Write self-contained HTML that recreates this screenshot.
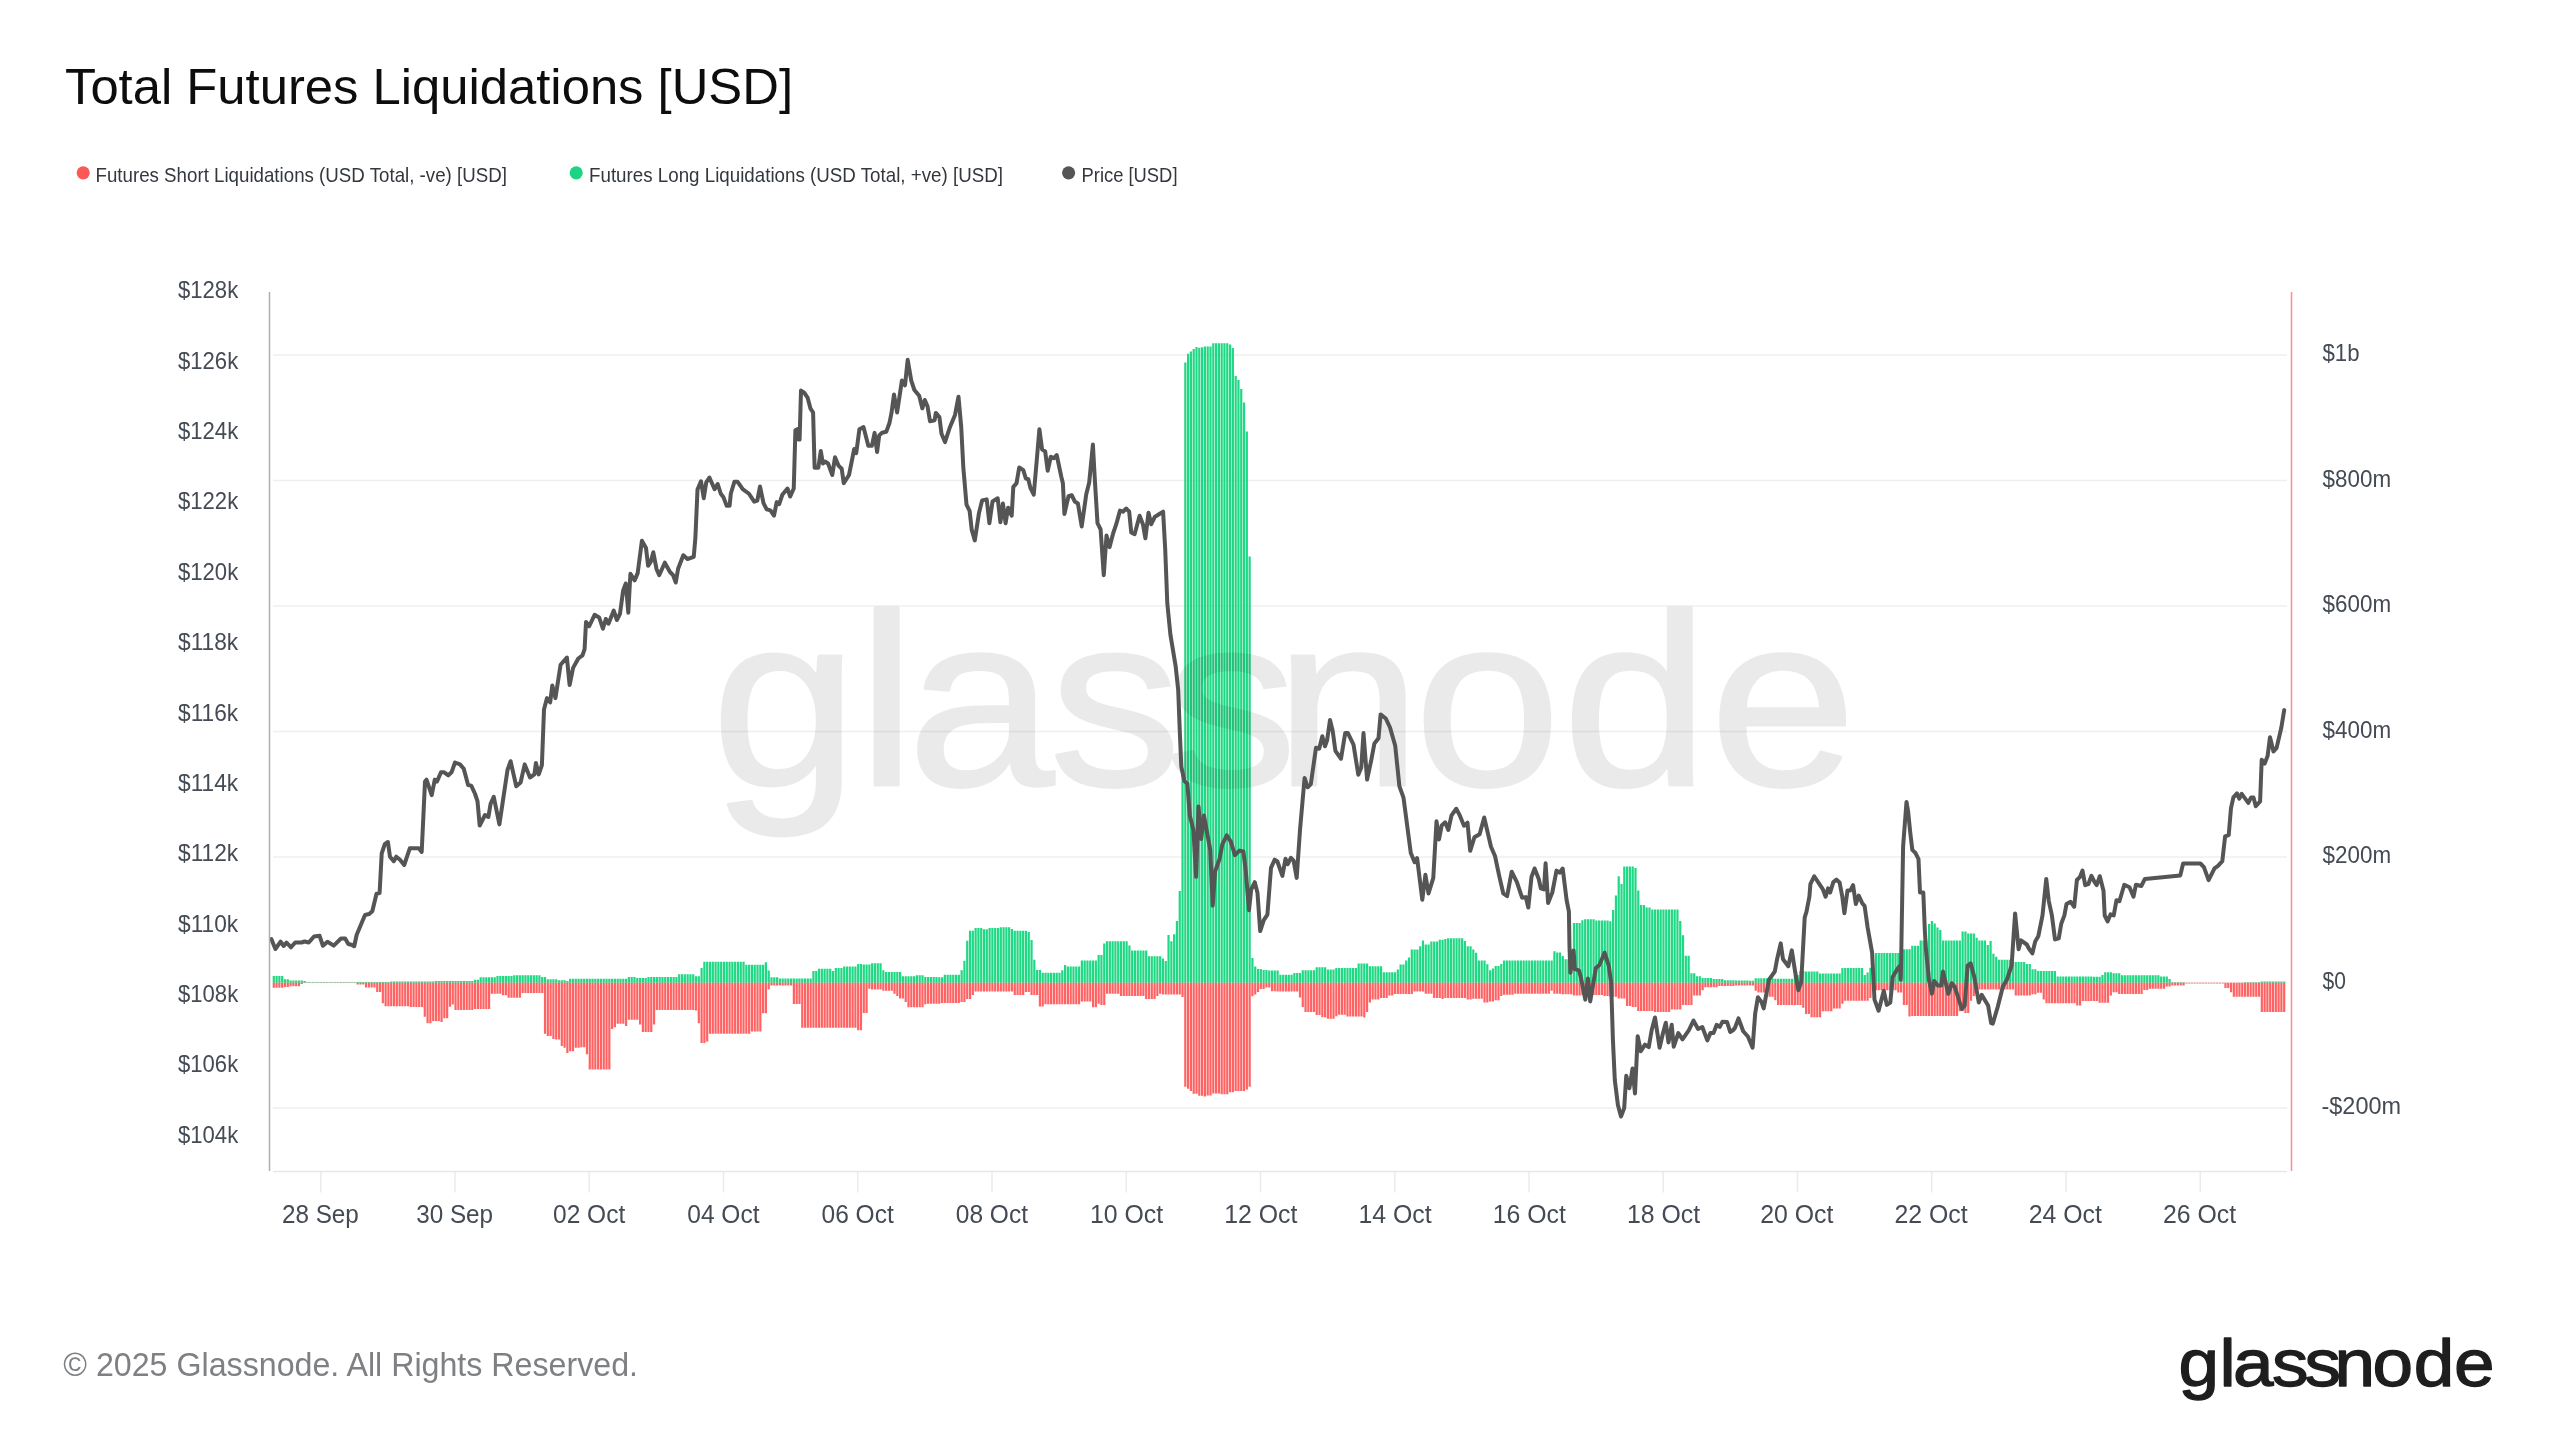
<!DOCTYPE html><html><head><meta charset="utf-8"><title>Total Futures Liquidations [USD]</title>
<style>html,body{margin:0;padding:0;background:#fff;}body{width:2560px;height:1440px;overflow:hidden;}svg{display:block;will-change:transform;}text{font-family:"Liberation Sans",Arial,sans-serif;}</style></head><body>
<svg width="2560" height="1440" viewBox="0 0 2560 1440">
<rect width="2560" height="1440" fill="#ffffff"/>
<text x="65" y="103.6" font-size="50" fill="#0d0d0d" textLength="728" lengthAdjust="spacingAndGlyphs">Total Futures Liquidations [USD]</text>
<circle cx="83.2" cy="172.8" r="6.6" fill="#fd5858"/>
<text x="95.5" y="181.6" font-size="20.9" fill="#33383e" textLength="411.4" lengthAdjust="spacingAndGlyphs">Futures Short Liquidations (USD Total, -ve) [USD]</text>
<circle cx="576.2" cy="172.8" r="6.6" fill="#1fd385"/>
<text x="589" y="181.6" font-size="20.9" fill="#33383e" textLength="414" lengthAdjust="spacingAndGlyphs">Futures Long Liquidations (USD Total, +ve) [USD]</text>
<circle cx="1068.6" cy="172.8" r="6.6" fill="#555555"/>
<text x="1081.5" y="181.6" font-size="20.9" fill="#33383e" textLength="96" lengthAdjust="spacingAndGlyphs">Price [USD]</text>
<line x1="273" y1="355" x2="2287" y2="355" stroke="#efefef" stroke-width="1.5"/>
<line x1="273" y1="480.5" x2="2287" y2="480.5" stroke="#efefef" stroke-width="1.5"/>
<line x1="273" y1="606" x2="2287" y2="606" stroke="#efefef" stroke-width="1.5"/>
<line x1="273" y1="731.5" x2="2287" y2="731.5" stroke="#efefef" stroke-width="1.5"/>
<line x1="273" y1="857" x2="2287" y2="857" stroke="#efefef" stroke-width="1.5"/>
<line x1="273" y1="982.5" x2="2287" y2="982.5" stroke="#efefef" stroke-width="1.5"/>
<line x1="273" y1="1108" x2="2287" y2="1108" stroke="#efefef" stroke-width="1.5"/>
<text x="178" y="298.4" font-size="23.8" fill="#454b55" textLength="60.2" lengthAdjust="spacingAndGlyphs">$128k</text>
<text x="178" y="368.75" font-size="23.8" fill="#454b55" textLength="60.2" lengthAdjust="spacingAndGlyphs">$126k</text>
<text x="178" y="439.1" font-size="23.8" fill="#454b55" textLength="60.2" lengthAdjust="spacingAndGlyphs">$124k</text>
<text x="178" y="509.45" font-size="23.8" fill="#454b55" textLength="60.2" lengthAdjust="spacingAndGlyphs">$122k</text>
<text x="178" y="579.8" font-size="23.8" fill="#454b55" textLength="60.2" lengthAdjust="spacingAndGlyphs">$120k</text>
<text x="178" y="650.15" font-size="23.8" fill="#454b55" textLength="60.2" lengthAdjust="spacingAndGlyphs">$118k</text>
<text x="178" y="720.5" font-size="23.8" fill="#454b55" textLength="60.2" lengthAdjust="spacingAndGlyphs">$116k</text>
<text x="178" y="790.85" font-size="23.8" fill="#454b55" textLength="60.2" lengthAdjust="spacingAndGlyphs">$114k</text>
<text x="178" y="861.2" font-size="23.8" fill="#454b55" textLength="60.2" lengthAdjust="spacingAndGlyphs">$112k</text>
<text x="178" y="931.55" font-size="23.8" fill="#454b55" textLength="60.2" lengthAdjust="spacingAndGlyphs">$110k</text>
<text x="178" y="1001.9" font-size="23.8" fill="#454b55" textLength="60.2" lengthAdjust="spacingAndGlyphs">$108k</text>
<text x="178" y="1072.25" font-size="23.8" fill="#454b55" textLength="60.2" lengthAdjust="spacingAndGlyphs">$106k</text>
<text x="178" y="1142.6" font-size="23.8" fill="#454b55" textLength="60.2" lengthAdjust="spacingAndGlyphs">$104k</text>
<text x="2322.5" y="361.4" font-size="23.8" fill="#454b55" textLength="37" lengthAdjust="spacingAndGlyphs">$1b</text>
<text x="2322.5" y="486.9" font-size="23.8" fill="#454b55" textLength="68.6" lengthAdjust="spacingAndGlyphs">$800m</text>
<text x="2322.5" y="612.4" font-size="23.8" fill="#454b55" textLength="68.6" lengthAdjust="spacingAndGlyphs">$600m</text>
<text x="2322.5" y="737.9" font-size="23.8" fill="#454b55" textLength="68.6" lengthAdjust="spacingAndGlyphs">$400m</text>
<text x="2322.5" y="863.4" font-size="23.8" fill="#454b55" textLength="68.6" lengthAdjust="spacingAndGlyphs">$200m</text>
<text x="2322.5" y="988.9" font-size="23.8" fill="#454b55" textLength="23.4" lengthAdjust="spacingAndGlyphs">$0</text>
<text x="2321.5" y="1114.4" font-size="23.8" fill="#454b55" textLength="79.6" lengthAdjust="spacingAndGlyphs">-$200m</text>
<line x1="273" y1="1171.5" x2="2287" y2="1171.5" stroke="#e4e6e9" stroke-width="1.5"/>
<line x1="320.75" y1="1172" x2="320.75" y2="1192.5" stroke="#eaebed" stroke-width="1.5"/>
<text x="282" y="1222.9" font-size="26.2" fill="#454b55" textLength="76.8" lengthAdjust="spacingAndGlyphs">28 Sep</text>
<line x1="455" y1="1172" x2="455" y2="1192.5" stroke="#eaebed" stroke-width="1.5"/>
<text x="416.25" y="1222.9" font-size="26.2" fill="#454b55" textLength="76.8" lengthAdjust="spacingAndGlyphs">30 Sep</text>
<line x1="589.25" y1="1172" x2="589.25" y2="1192.5" stroke="#eaebed" stroke-width="1.5"/>
<text x="553" y="1222.9" font-size="26.2" fill="#454b55" textLength="72.2" lengthAdjust="spacingAndGlyphs">02 Oct</text>
<line x1="723.5" y1="1172" x2="723.5" y2="1192.5" stroke="#eaebed" stroke-width="1.5"/>
<text x="687.25" y="1222.9" font-size="26.2" fill="#454b55" textLength="72.2" lengthAdjust="spacingAndGlyphs">04 Oct</text>
<line x1="857.75" y1="1172" x2="857.75" y2="1192.5" stroke="#eaebed" stroke-width="1.5"/>
<text x="821.5" y="1222.9" font-size="26.2" fill="#454b55" textLength="72.2" lengthAdjust="spacingAndGlyphs">06 Oct</text>
<line x1="992" y1="1172" x2="992" y2="1192.5" stroke="#eaebed" stroke-width="1.5"/>
<text x="955.75" y="1222.9" font-size="26.2" fill="#454b55" textLength="72.2" lengthAdjust="spacingAndGlyphs">08 Oct</text>
<line x1="1126.25" y1="1172" x2="1126.25" y2="1192.5" stroke="#eaebed" stroke-width="1.5"/>
<text x="1090" y="1222.9" font-size="26.2" fill="#454b55" textLength="73.2" lengthAdjust="spacingAndGlyphs">10 Oct</text>
<line x1="1260.5" y1="1172" x2="1260.5" y2="1192.5" stroke="#eaebed" stroke-width="1.5"/>
<text x="1224.25" y="1222.9" font-size="26.2" fill="#454b55" textLength="73.2" lengthAdjust="spacingAndGlyphs">12 Oct</text>
<line x1="1394.75" y1="1172" x2="1394.75" y2="1192.5" stroke="#eaebed" stroke-width="1.5"/>
<text x="1358.5" y="1222.9" font-size="26.2" fill="#454b55" textLength="73.2" lengthAdjust="spacingAndGlyphs">14 Oct</text>
<line x1="1529" y1="1172" x2="1529" y2="1192.5" stroke="#eaebed" stroke-width="1.5"/>
<text x="1492.75" y="1222.9" font-size="26.2" fill="#454b55" textLength="73.2" lengthAdjust="spacingAndGlyphs">16 Oct</text>
<line x1="1663.25" y1="1172" x2="1663.25" y2="1192.5" stroke="#eaebed" stroke-width="1.5"/>
<text x="1627" y="1222.9" font-size="26.2" fill="#454b55" textLength="73.2" lengthAdjust="spacingAndGlyphs">18 Oct</text>
<line x1="1797.5" y1="1172" x2="1797.5" y2="1192.5" stroke="#eaebed" stroke-width="1.5"/>
<text x="1760.25" y="1222.9" font-size="26.2" fill="#454b55" textLength="73.2" lengthAdjust="spacingAndGlyphs">20 Oct</text>
<line x1="1931.75" y1="1172" x2="1931.75" y2="1192.5" stroke="#eaebed" stroke-width="1.5"/>
<text x="1894.5" y="1222.9" font-size="26.2" fill="#454b55" textLength="73.2" lengthAdjust="spacingAndGlyphs">22 Oct</text>
<line x1="2066" y1="1172" x2="2066" y2="1192.5" stroke="#eaebed" stroke-width="1.5"/>
<text x="2028.75" y="1222.9" font-size="26.2" fill="#454b55" textLength="73.2" lengthAdjust="spacingAndGlyphs">24 Oct</text>
<line x1="2200.25" y1="1172" x2="2200.25" y2="1192.5" stroke="#eaebed" stroke-width="1.5"/>
<text x="2163" y="1222.9" font-size="26.2" fill="#454b55" textLength="73.2" lengthAdjust="spacingAndGlyphs">26 Oct</text>
<path d="M272.7 976.1h2.2V982.8h-2.2zM275.49 976.1h2.2V982.8h-2.2zM278.29 976.1h2.2V982.8h-2.2zM281.09 976.1h2.2V982.8h-2.2zM283.88 979.3h2.2V982.8h-2.2zM286.68 979.3h2.2V982.8h-2.2zM289.47 980.4h2.2V982.8h-2.2zM292.27 980.4h2.2V982.8h-2.2zM295.07 980.4h2.2V982.8h-2.2zM297.86 980.4h2.2V982.8h-2.2zM300.66 980.4h2.2V982.8h-2.2zM303.46 981h2.2V982.8h-2.2zM306.25 982.2h2.2V982.8h-2.2zM309.05 982.2h2.2V982.8h-2.2zM311.84 982.2h2.2V982.8h-2.2zM314.64 982.2h2.2V982.8h-2.2zM317.44 982.2h2.2V982.8h-2.2zM320.23 982.2h2.2V982.8h-2.2zM323.03 982.2h2.2V982.8h-2.2zM325.82 982.2h2.2V982.8h-2.2zM328.62 982.2h2.2V982.8h-2.2zM331.42 982.2h2.2V982.8h-2.2zM334.21 982.2h2.2V982.8h-2.2zM337.01 982.2h2.2V982.8h-2.2zM339.8 982.2h2.2V982.8h-2.2zM342.6 982.2h2.2V982.8h-2.2zM345.4 982.2h2.2V982.8h-2.2zM348.19 982.2h2.2V982.8h-2.2zM350.99 982.2h2.2V982.8h-2.2zM353.78 982.2h2.2V982.8h-2.2zM356.58 982h2.2V982.8h-2.2zM359.38 982h2.2V982.8h-2.2zM362.17 982h2.2V982.8h-2.2zM364.97 982h2.2V982.8h-2.2zM367.77 982h2.2V982.8h-2.2zM370.56 982h2.2V982.8h-2.2zM373.36 982h2.2V982.8h-2.2zM376.15 982h2.2V982.8h-2.2zM378.95 982h2.2V982.8h-2.2zM381.75 982h2.2V982.8h-2.2zM384.54 982h2.2V982.8h-2.2zM387.34 982h2.2V982.8h-2.2zM390.13 981.6h2.2V982.8h-2.2zM392.93 981.6h2.2V982.8h-2.2zM395.73 981.6h2.2V982.8h-2.2zM398.52 981.6h2.2V982.8h-2.2zM401.32 981.6h2.2V982.8h-2.2zM404.11 981.6h2.2V982.8h-2.2zM406.91 981.6h2.2V982.8h-2.2zM409.71 981.6h2.2V982.8h-2.2zM412.5 981.6h2.2V982.8h-2.2zM415.3 981.6h2.2V982.8h-2.2zM418.1 981.6h2.2V982.8h-2.2zM420.89 981.6h2.2V982.8h-2.2zM423.69 981.6h2.2V982.8h-2.2zM426.48 981.6h2.2V982.8h-2.2zM429.28 981.6h2.2V982.8h-2.2zM432.08 981.6h2.2V982.8h-2.2zM434.87 981h2.2V982.8h-2.2zM437.67 981h2.2V982.8h-2.2zM440.46 981h2.2V982.8h-2.2zM443.26 981h2.2V982.8h-2.2zM446.06 981h2.2V982.8h-2.2zM448.85 981h2.2V982.8h-2.2zM451.65 981h2.2V982.8h-2.2zM454.44 981h2.2V982.8h-2.2zM457.24 981h2.2V982.8h-2.2zM460.04 981h2.2V982.8h-2.2zM462.83 981h2.2V982.8h-2.2zM465.63 981h2.2V982.8h-2.2zM468.43 981h2.2V982.8h-2.2zM471.22 981h2.2V982.8h-2.2zM474.02 979.8h2.2V982.8h-2.2zM476.81 979.8h2.2V982.8h-2.2zM479.61 977.3h2.2V982.8h-2.2zM482.41 977.3h2.2V982.8h-2.2zM485.2 977.3h2.2V982.8h-2.2zM488 977.3h2.2V982.8h-2.2zM490.79 977.3h2.2V982.8h-2.2zM493.59 977.3h2.2V982.8h-2.2zM496.39 976.1h2.2V982.8h-2.2zM499.18 976.1h2.2V982.8h-2.2zM501.98 976.1h2.2V982.8h-2.2zM504.77 976.1h2.2V982.8h-2.2zM507.57 976.1h2.2V982.8h-2.2zM510.37 976.1h2.2V982.8h-2.2zM513.16 975.2h2.2V982.8h-2.2zM515.96 975.2h2.2V982.8h-2.2zM518.75 975.2h2.2V982.8h-2.2zM521.55 975.2h2.2V982.8h-2.2zM524.35 975.2h2.2V982.8h-2.2zM527.14 975.2h2.2V982.8h-2.2zM529.94 975.2h2.2V982.8h-2.2zM532.74 975.2h2.2V982.8h-2.2zM535.53 975.2h2.2V982.8h-2.2zM538.33 975.2h2.2V982.8h-2.2zM541.12 977h2.2V982.8h-2.2zM543.92 977h2.2V982.8h-2.2zM546.72 979.3h2.2V982.8h-2.2zM549.51 979.3h2.2V982.8h-2.2zM552.31 979.3h2.2V982.8h-2.2zM555.1 979.3h2.2V982.8h-2.2zM557.9 980.2h2.2V982.8h-2.2zM560.7 980.2h2.2V982.8h-2.2zM563.49 980.2h2.2V982.8h-2.2zM566.29 981h2.2V982.8h-2.2zM569.08 978.7h2.2V982.8h-2.2zM571.88 978.7h2.2V982.8h-2.2zM574.68 978.7h2.2V982.8h-2.2zM577.47 978.7h2.2V982.8h-2.2zM580.27 978.7h2.2V982.8h-2.2zM583.07 978.7h2.2V982.8h-2.2zM585.86 978.7h2.2V982.8h-2.2zM588.66 978.7h2.2V982.8h-2.2zM591.45 978.7h2.2V982.8h-2.2zM594.25 978.7h2.2V982.8h-2.2zM597.05 978.7h2.2V982.8h-2.2zM599.84 978.7h2.2V982.8h-2.2zM602.64 978.7h2.2V982.8h-2.2zM605.43 978.7h2.2V982.8h-2.2zM608.23 978.7h2.2V982.8h-2.2zM611.03 978.7h2.2V982.8h-2.2zM613.82 978.7h2.2V982.8h-2.2zM616.62 978.7h2.2V982.8h-2.2zM619.41 978.7h2.2V982.8h-2.2zM622.21 978.7h2.2V982.8h-2.2zM625.01 978.7h2.2V982.8h-2.2zM627.8 976.9h2.2V982.8h-2.2zM630.6 976.9h2.2V982.8h-2.2zM633.39 976.9h2.2V982.8h-2.2zM636.19 978.1h2.2V982.8h-2.2zM638.99 978.1h2.2V982.8h-2.2zM641.78 978.1h2.2V982.8h-2.2zM644.58 978.1h2.2V982.8h-2.2zM647.38 976.9h2.2V982.8h-2.2zM650.17 976.9h2.2V982.8h-2.2zM652.97 976.9h2.2V982.8h-2.2zM655.76 976.9h2.2V982.8h-2.2zM658.56 976.9h2.2V982.8h-2.2zM661.36 976.9h2.2V982.8h-2.2zM664.15 976.9h2.2V982.8h-2.2zM666.95 976.9h2.2V982.8h-2.2zM669.74 976.9h2.2V982.8h-2.2zM672.54 976.9h2.2V982.8h-2.2zM675.34 976.9h2.2V982.8h-2.2zM678.13 974.2h2.2V982.8h-2.2zM680.93 974.2h2.2V982.8h-2.2zM683.72 974.2h2.2V982.8h-2.2zM686.52 974.2h2.2V982.8h-2.2zM689.32 974.2h2.2V982.8h-2.2zM692.11 974.2h2.2V982.8h-2.2zM694.91 976.3h2.2V982.8h-2.2zM697.71 976.3h2.2V982.8h-2.2zM700.5 968.1h2.2V982.8h-2.2zM703.3 961.7h2.2V982.8h-2.2zM706.09 961.7h2.2V982.8h-2.2zM708.89 961.7h2.2V982.8h-2.2zM711.69 961.7h2.2V982.8h-2.2zM714.48 961.7h2.2V982.8h-2.2zM717.28 961.7h2.2V982.8h-2.2zM720.07 961.7h2.2V982.8h-2.2zM722.87 961.7h2.2V982.8h-2.2zM725.67 961.7h2.2V982.8h-2.2zM728.46 961.7h2.2V982.8h-2.2zM731.26 961.7h2.2V982.8h-2.2zM734.05 961.7h2.2V982.8h-2.2zM736.85 961.7h2.2V982.8h-2.2zM739.65 961.7h2.2V982.8h-2.2zM742.44 961.7h2.2V982.8h-2.2zM745.24 964.8h2.2V982.8h-2.2zM748.04 964.8h2.2V982.8h-2.2zM750.83 964.8h2.2V982.8h-2.2zM753.63 964.8h2.2V982.8h-2.2zM756.42 964.8h2.2V982.8h-2.2zM759.22 964.8h2.2V982.8h-2.2zM762.02 964.8h2.2V982.8h-2.2zM764.81 962.3h2.2V982.8h-2.2zM767.61 970.5h2.2V982.8h-2.2zM770.4 977.3h2.2V982.8h-2.2zM773.2 977.3h2.2V982.8h-2.2zM776 977.3h2.2V982.8h-2.2zM778.79 978.4h2.2V982.8h-2.2zM781.59 978.4h2.2V982.8h-2.2zM784.38 978.4h2.2V982.8h-2.2zM787.18 978.4h2.2V982.8h-2.2zM789.98 978.4h2.2V982.8h-2.2zM792.77 978.4h2.2V982.8h-2.2zM795.57 978.4h2.2V982.8h-2.2zM798.36 978.4h2.2V982.8h-2.2zM801.16 978.4h2.2V982.8h-2.2zM803.96 978.4h2.2V982.8h-2.2zM806.75 978.4h2.2V982.8h-2.2zM809.55 978.4h2.2V982.8h-2.2zM812.35 971.1h2.2V982.8h-2.2zM815.14 971.1h2.2V982.8h-2.2zM817.94 968.7h2.2V982.8h-2.2zM820.73 968.7h2.2V982.8h-2.2zM823.53 968.7h2.2V982.8h-2.2zM826.33 968.7h2.2V982.8h-2.2zM829.12 968.7h2.2V982.8h-2.2zM831.92 971h2.2V982.8h-2.2zM834.71 967.9h2.2V982.8h-2.2zM837.51 967.9h2.2V982.8h-2.2zM840.31 967.9h2.2V982.8h-2.2zM843.1 966.4h2.2V982.8h-2.2zM845.9 966.4h2.2V982.8h-2.2zM848.69 966.4h2.2V982.8h-2.2zM851.49 966.4h2.2V982.8h-2.2zM854.29 966.4h2.2V982.8h-2.2zM857.08 964h2.2V982.8h-2.2zM859.88 964h2.2V982.8h-2.2zM862.68 964.5h2.2V982.8h-2.2zM865.47 964.5h2.2V982.8h-2.2zM868.27 964.5h2.2V982.8h-2.2zM871.06 963.3h2.2V982.8h-2.2zM873.86 963.3h2.2V982.8h-2.2zM876.66 963.3h2.2V982.8h-2.2zM879.45 963.3h2.2V982.8h-2.2zM882.25 970.3h2.2V982.8h-2.2zM885.04 972.1h2.2V982.8h-2.2zM887.84 972.1h2.2V982.8h-2.2zM890.64 972.1h2.2V982.8h-2.2zM893.43 972.1h2.2V982.8h-2.2zM896.23 972.1h2.2V982.8h-2.2zM899.02 972.1h2.2V982.8h-2.2zM901.82 976.2h2.2V982.8h-2.2zM904.62 976.2h2.2V982.8h-2.2zM907.41 976.2h2.2V982.8h-2.2zM910.21 976.2h2.2V982.8h-2.2zM913 976.2h2.2V982.8h-2.2zM915.8 975.2h2.2V982.8h-2.2zM918.6 975.2h2.2V982.8h-2.2zM921.39 975.2h2.2V982.8h-2.2zM924.19 977h2.2V982.8h-2.2zM926.99 977h2.2V982.8h-2.2zM929.78 977h2.2V982.8h-2.2zM932.58 977h2.2V982.8h-2.2zM935.37 977h2.2V982.8h-2.2zM938.17 977.3h2.2V982.8h-2.2zM940.97 977.3h2.2V982.8h-2.2zM943.76 974.7h2.2V982.8h-2.2zM946.56 974.7h2.2V982.8h-2.2zM949.35 974.7h2.2V982.8h-2.2zM952.15 974.7h2.2V982.8h-2.2zM954.95 974.7h2.2V982.8h-2.2zM957.74 974.7h2.2V982.8h-2.2zM960.54 970.3h2.2V982.8h-2.2zM963.33 960.7h2.2V982.8h-2.2zM966.13 940.8h2.2V982.8h-2.2zM968.93 930.7h2.2V982.8h-2.2zM971.72 930.7h2.2V982.8h-2.2zM974.52 927.9h2.2V982.8h-2.2zM977.32 927.9h2.2V982.8h-2.2zM980.11 927.9h2.2V982.8h-2.2zM982.91 929.3h2.2V982.8h-2.2zM985.7 929.3h2.2V982.8h-2.2zM988.5 927.9h2.2V982.8h-2.2zM991.3 927.9h2.2V982.8h-2.2zM994.09 927.9h2.2V982.8h-2.2zM996.89 927.9h2.2V982.8h-2.2zM999.68 927.2h2.2V982.8h-2.2zM1002.48 927.2h2.2V982.8h-2.2zM1005.28 927.2h2.2V982.8h-2.2zM1008.07 927.2h2.2V982.8h-2.2zM1010.87 929h2.2V982.8h-2.2zM1013.66 930.7h2.2V982.8h-2.2zM1016.46 930.7h2.2V982.8h-2.2zM1019.26 930.7h2.2V982.8h-2.2zM1022.05 930.7h2.2V982.8h-2.2zM1024.85 930.7h2.2V982.8h-2.2zM1027.65 931.9h2.2V982.8h-2.2zM1030.44 940.1h2.2V982.8h-2.2zM1033.24 959.8h2.2V982.8h-2.2zM1036.03 970.1h2.2V982.8h-2.2zM1038.83 970.1h2.2V982.8h-2.2zM1041.63 972.7h2.2V982.8h-2.2zM1044.42 972.7h2.2V982.8h-2.2zM1047.22 972.7h2.2V982.8h-2.2zM1050.01 972.7h2.2V982.8h-2.2zM1052.81 972.7h2.2V982.8h-2.2zM1055.61 972.7h2.2V982.8h-2.2zM1058.4 972.7h2.2V982.8h-2.2zM1061.2 970.3h2.2V982.8h-2.2zM1063.99 965h2.2V982.8h-2.2zM1066.79 966.6h2.2V982.8h-2.2zM1069.59 966.6h2.2V982.8h-2.2zM1072.38 966.6h2.2V982.8h-2.2zM1075.18 966.6h2.2V982.8h-2.2zM1077.97 966.6h2.2V982.8h-2.2zM1080.77 960.4h2.2V982.8h-2.2zM1083.57 960.4h2.2V982.8h-2.2zM1086.36 960.4h2.2V982.8h-2.2zM1089.16 960.4h2.2V982.8h-2.2zM1091.96 960.4h2.2V982.8h-2.2zM1094.75 960.4h2.2V982.8h-2.2zM1097.55 955.1h2.2V982.8h-2.2zM1100.34 955.1h2.2V982.8h-2.2zM1103.14 943.4h2.2V982.8h-2.2zM1105.94 941.3h2.2V982.8h-2.2zM1108.73 941.3h2.2V982.8h-2.2zM1111.53 941.3h2.2V982.8h-2.2zM1114.32 941.3h2.2V982.8h-2.2zM1117.12 941.3h2.2V982.8h-2.2zM1119.92 941.3h2.2V982.8h-2.2zM1122.71 941.3h2.2V982.8h-2.2zM1125.51 941.3h2.2V982.8h-2.2zM1128.3 945.5h2.2V982.8h-2.2zM1131.1 950.4h2.2V982.8h-2.2zM1133.9 950.4h2.2V982.8h-2.2zM1136.69 950.4h2.2V982.8h-2.2zM1139.49 950.4h2.2V982.8h-2.2zM1142.29 950.4h2.2V982.8h-2.2zM1145.08 950.4h2.2V982.8h-2.2zM1147.88 956.3h2.2V982.8h-2.2zM1150.67 956.3h2.2V982.8h-2.2zM1153.47 956.3h2.2V982.8h-2.2zM1156.27 956.3h2.2V982.8h-2.2zM1159.06 956.3h2.2V982.8h-2.2zM1161.86 958.4h2.2V982.8h-2.2zM1164.65 961.1h2.2V982.8h-2.2zM1167.45 935.1h2.2V982.8h-2.2zM1170.25 941.2h2.2V982.8h-2.2zM1173.04 934.2h2.2V982.8h-2.2zM1175.84 920.9h2.2V982.8h-2.2zM1178.63 891.1h2.2V982.8h-2.2zM1181.43 775h2.2V982.8h-2.2zM1184.23 362.5h2.2V982.8h-2.2zM1187.02 353.75h2.2V982.8h-2.2zM1189.82 351.6h2.2V982.8h-2.2zM1192.61 349h2.2V982.8h-2.2zM1195.41 346.9h2.2V982.8h-2.2zM1198.21 347.8h2.2V982.8h-2.2zM1201 347.2h2.2V982.8h-2.2zM1203.8 346.6h2.2V982.8h-2.2zM1206.6 346.6h2.2V982.8h-2.2zM1209.39 346.6h2.2V982.8h-2.2zM1212.19 343.25h2.2V982.8h-2.2zM1214.98 343.25h2.2V982.8h-2.2zM1217.78 343.25h2.2V982.8h-2.2zM1220.58 343.25h2.2V982.8h-2.2zM1223.37 343.25h2.2V982.8h-2.2zM1226.17 343.25h2.2V982.8h-2.2zM1228.96 344.5h2.2V982.8h-2.2zM1231.76 348.1h2.2V982.8h-2.2zM1234.56 376h2.2V982.8h-2.2zM1237.35 380h2.2V982.8h-2.2zM1240.15 389h2.2V982.8h-2.2zM1242.94 402.5h2.2V982.8h-2.2zM1245.74 431.5h2.2V982.8h-2.2zM1248.54 556.5h2.2V982.8h-2.2zM1251.33 958.1h2.2V982.8h-2.2zM1254.13 966.5h2.2V982.8h-2.2zM1256.93 969h2.2V982.8h-2.2zM1259.72 969h2.2V982.8h-2.2zM1262.52 970h2.2V982.8h-2.2zM1265.31 970h2.2V982.8h-2.2zM1268.11 970.6h2.2V982.8h-2.2zM1270.91 970.6h2.2V982.8h-2.2zM1273.7 970.6h2.2V982.8h-2.2zM1276.5 970.6h2.2V982.8h-2.2zM1279.29 974.75h2.2V982.8h-2.2zM1282.09 974.75h2.2V982.8h-2.2zM1284.89 974.75h2.2V982.8h-2.2zM1287.68 974.75h2.2V982.8h-2.2zM1290.48 974.75h2.2V982.8h-2.2zM1293.27 973.1h2.2V982.8h-2.2zM1296.07 973.1h2.2V982.8h-2.2zM1298.87 973.1h2.2V982.8h-2.2zM1301.66 970.25h2.2V982.8h-2.2zM1304.46 970.25h2.2V982.8h-2.2zM1307.26 970.25h2.2V982.8h-2.2zM1310.05 970.25h2.2V982.8h-2.2zM1312.85 970.25h2.2V982.8h-2.2zM1315.64 967.25h2.2V982.8h-2.2zM1318.44 967.25h2.2V982.8h-2.2zM1321.24 967.25h2.2V982.8h-2.2zM1324.03 967.25h2.2V982.8h-2.2zM1326.83 969.4h2.2V982.8h-2.2zM1329.62 969.4h2.2V982.8h-2.2zM1332.42 969.4h2.2V982.8h-2.2zM1335.22 968.1h2.2V982.8h-2.2zM1338.01 968.1h2.2V982.8h-2.2zM1340.81 968.1h2.2V982.8h-2.2zM1343.6 968.1h2.2V982.8h-2.2zM1346.4 968.1h2.2V982.8h-2.2zM1349.2 968.1h2.2V982.8h-2.2zM1351.99 968.1h2.2V982.8h-2.2zM1354.79 968.1h2.2V982.8h-2.2zM1357.58 963.5h2.2V982.8h-2.2zM1360.38 963.5h2.2V982.8h-2.2zM1363.18 963.5h2.2V982.8h-2.2zM1365.97 963.5h2.2V982.8h-2.2zM1368.77 966.25h2.2V982.8h-2.2zM1371.57 966.25h2.2V982.8h-2.2zM1374.36 966.25h2.2V982.8h-2.2zM1377.16 966.25h2.2V982.8h-2.2zM1379.95 966.25h2.2V982.8h-2.2zM1382.75 972.25h2.2V982.8h-2.2zM1385.55 972.25h2.2V982.8h-2.2zM1388.34 972.25h2.2V982.8h-2.2zM1391.14 972.25h2.2V982.8h-2.2zM1393.93 972.25h2.2V982.8h-2.2zM1396.73 969.4h2.2V982.8h-2.2zM1399.53 964.4h2.2V982.8h-2.2zM1402.32 964.4h2.2V982.8h-2.2zM1405.12 960.6h2.2V982.8h-2.2zM1407.91 957.5h2.2V982.8h-2.2zM1410.71 949.4h2.2V982.8h-2.2zM1413.51 949.4h2.2V982.8h-2.2zM1416.3 949.4h2.2V982.8h-2.2zM1419.1 946.25h2.2V982.8h-2.2zM1421.9 940.6h2.2V982.8h-2.2zM1424.69 944.4h2.2V982.8h-2.2zM1427.49 944.4h2.2V982.8h-2.2zM1430.28 941.5h2.2V982.8h-2.2zM1433.08 941.5h2.2V982.8h-2.2zM1435.88 941.5h2.2V982.8h-2.2zM1438.67 939.75h2.2V982.8h-2.2zM1441.47 939.75h2.2V982.8h-2.2zM1444.26 938.9h2.2V982.8h-2.2zM1447.06 938.2h2.2V982.8h-2.2zM1449.86 938.2h2.2V982.8h-2.2zM1452.65 938.2h2.2V982.8h-2.2zM1455.45 938.2h2.2V982.8h-2.2zM1458.24 938.2h2.2V982.8h-2.2zM1461.04 938.2h2.2V982.8h-2.2zM1463.84 941h2.2V982.8h-2.2zM1466.63 946.3h2.2V982.8h-2.2zM1469.43 946.3h2.2V982.8h-2.2zM1472.22 949.5h2.2V982.8h-2.2zM1475.02 952.7h2.2V982.8h-2.2zM1477.82 960.4h2.2V982.8h-2.2zM1480.61 960.4h2.2V982.8h-2.2zM1483.41 960.4h2.2V982.8h-2.2zM1486.21 964.2h2.2V982.8h-2.2zM1489 970.3h2.2V982.8h-2.2zM1491.8 968.6h2.2V982.8h-2.2zM1494.59 965.9h2.2V982.8h-2.2zM1497.39 965.9h2.2V982.8h-2.2zM1500.19 963.9h2.2V982.8h-2.2zM1502.98 960.6h2.2V982.8h-2.2zM1505.78 960.6h2.2V982.8h-2.2zM1508.57 960.6h2.2V982.8h-2.2zM1511.37 960.6h2.2V982.8h-2.2zM1514.17 960.6h2.2V982.8h-2.2zM1516.96 960.6h2.2V982.8h-2.2zM1519.76 960.6h2.2V982.8h-2.2zM1522.55 960.6h2.2V982.8h-2.2zM1525.35 960.6h2.2V982.8h-2.2zM1528.15 960.6h2.2V982.8h-2.2zM1530.94 960.6h2.2V982.8h-2.2zM1533.74 960.6h2.2V982.8h-2.2zM1536.54 960.6h2.2V982.8h-2.2zM1539.33 960.6h2.2V982.8h-2.2zM1542.13 960.6h2.2V982.8h-2.2zM1544.92 960.6h2.2V982.8h-2.2zM1547.72 960.6h2.2V982.8h-2.2zM1550.52 960.6h2.2V982.8h-2.2zM1553.31 951.3h2.2V982.8h-2.2zM1556.11 952.5h2.2V982.8h-2.2zM1558.9 952.5h2.2V982.8h-2.2zM1561.7 956h2.2V982.8h-2.2zM1564.5 959.2h2.2V982.8h-2.2zM1567.29 959.2h2.2V982.8h-2.2zM1570.09 950h2.2V982.8h-2.2zM1572.88 923h2.2V982.8h-2.2zM1575.68 923h2.2V982.8h-2.2zM1578.48 923h2.2V982.8h-2.2zM1581.27 920.2h2.2V982.8h-2.2zM1584.07 919.3h2.2V982.8h-2.2zM1586.87 919.3h2.2V982.8h-2.2zM1589.66 919.3h2.2V982.8h-2.2zM1592.46 919.3h2.2V982.8h-2.2zM1595.25 920.5h2.2V982.8h-2.2zM1598.05 920.5h2.2V982.8h-2.2zM1600.85 920.5h2.2V982.8h-2.2zM1603.64 920.5h2.2V982.8h-2.2zM1606.44 920.5h2.2V982.8h-2.2zM1609.23 921.3h2.2V982.8h-2.2zM1612.03 910h2.2V982.8h-2.2zM1614.83 895.6h2.2V982.8h-2.2zM1617.62 876.25h2.2V982.8h-2.2zM1620.42 884h2.2V982.8h-2.2zM1623.21 866.5h2.2V982.8h-2.2zM1626.01 866.5h2.2V982.8h-2.2zM1628.81 866.5h2.2V982.8h-2.2zM1631.6 866.5h2.2V982.8h-2.2zM1634.4 868h2.2V982.8h-2.2zM1637.19 890.4h2.2V982.8h-2.2zM1639.99 904.9h2.2V982.8h-2.2zM1642.79 904.9h2.2V982.8h-2.2zM1645.58 907.6h2.2V982.8h-2.2zM1648.38 907.6h2.2V982.8h-2.2zM1651.18 909.6h2.2V982.8h-2.2zM1653.97 909.6h2.2V982.8h-2.2zM1656.77 909.6h2.2V982.8h-2.2zM1659.56 909.6h2.2V982.8h-2.2zM1662.36 909.6h2.2V982.8h-2.2zM1665.16 909.6h2.2V982.8h-2.2zM1667.95 909.6h2.2V982.8h-2.2zM1670.75 909.6h2.2V982.8h-2.2zM1673.54 909.6h2.2V982.8h-2.2zM1676.34 909.6h2.2V982.8h-2.2zM1679.14 921.1h2.2V982.8h-2.2zM1681.93 935.2h2.2V982.8h-2.2zM1684.73 955.7h2.2V982.8h-2.2zM1687.52 955.7h2.2V982.8h-2.2zM1690.32 973.25h2.2V982.8h-2.2zM1693.12 973.25h2.2V982.8h-2.2zM1695.91 976.2h2.2V982.8h-2.2zM1698.71 976.2h2.2V982.8h-2.2zM1701.51 977.9h2.2V982.8h-2.2zM1704.3 977.9h2.2V982.8h-2.2zM1707.1 977.9h2.2V982.8h-2.2zM1709.89 977.9h2.2V982.8h-2.2zM1712.69 979.1h2.2V982.8h-2.2zM1715.49 979.1h2.2V982.8h-2.2zM1718.28 979.1h2.2V982.8h-2.2zM1721.08 979.1h2.2V982.8h-2.2zM1723.87 980.3h2.2V982.8h-2.2zM1726.67 980.3h2.2V982.8h-2.2zM1729.47 980.3h2.2V982.8h-2.2zM1732.26 980.3h2.2V982.8h-2.2zM1735.06 980.6h2.2V982.8h-2.2zM1737.85 980.6h2.2V982.8h-2.2zM1740.65 980.6h2.2V982.8h-2.2zM1743.45 980.6h2.2V982.8h-2.2zM1746.24 980.6h2.2V982.8h-2.2zM1749.04 980.8h2.2V982.8h-2.2zM1751.83 980.8h2.2V982.8h-2.2zM1754.63 978.3h2.2V982.8h-2.2zM1757.43 978.3h2.2V982.8h-2.2zM1760.22 978.3h2.2V982.8h-2.2zM1763.02 978.3h2.2V982.8h-2.2zM1765.82 978.3h2.2V982.8h-2.2zM1768.61 978.3h2.2V982.8h-2.2zM1771.41 978.3h2.2V982.8h-2.2zM1774.2 978.75h2.2V982.8h-2.2zM1777 978.75h2.2V982.8h-2.2zM1779.8 978.75h2.2V982.8h-2.2zM1782.59 978.75h2.2V982.8h-2.2zM1785.39 978.75h2.2V982.8h-2.2zM1788.18 978.75h2.2V982.8h-2.2zM1790.98 978.75h2.2V982.8h-2.2zM1793.78 975h2.2V982.8h-2.2zM1796.57 975h2.2V982.8h-2.2zM1799.37 970.9h2.2V982.8h-2.2zM1802.16 970.9h2.2V982.8h-2.2zM1804.96 971.5h2.2V982.8h-2.2zM1807.76 971.5h2.2V982.8h-2.2zM1810.55 971.5h2.2V982.8h-2.2zM1813.35 971.5h2.2V982.8h-2.2zM1816.15 971.5h2.2V982.8h-2.2zM1818.94 973.6h2.2V982.8h-2.2zM1821.74 973.6h2.2V982.8h-2.2zM1824.53 973.6h2.2V982.8h-2.2zM1827.33 973.6h2.2V982.8h-2.2zM1830.13 973.6h2.2V982.8h-2.2zM1832.92 973.6h2.2V982.8h-2.2zM1835.72 973.6h2.2V982.8h-2.2zM1838.51 973.6h2.2V982.8h-2.2zM1841.31 968h2.2V982.8h-2.2zM1844.11 968h2.2V982.8h-2.2zM1846.9 968h2.2V982.8h-2.2zM1849.7 968h2.2V982.8h-2.2zM1852.49 968h2.2V982.8h-2.2zM1855.29 968h2.2V982.8h-2.2zM1858.09 968h2.2V982.8h-2.2zM1860.88 968h2.2V982.8h-2.2zM1863.68 975h2.2V982.8h-2.2zM1866.48 972.4h2.2V982.8h-2.2zM1869.27 967.7h2.2V982.8h-2.2zM1872.07 967.7h2.2V982.8h-2.2zM1874.86 953h2.2V982.8h-2.2zM1877.66 953h2.2V982.8h-2.2zM1880.46 953h2.2V982.8h-2.2zM1883.25 953h2.2V982.8h-2.2zM1886.05 953h2.2V982.8h-2.2zM1888.84 953h2.2V982.8h-2.2zM1891.64 953h2.2V982.8h-2.2zM1894.44 953h2.2V982.8h-2.2zM1897.23 953h2.2V982.8h-2.2zM1900.03 953h2.2V982.8h-2.2zM1902.82 949.2h2.2V982.8h-2.2zM1905.62 949.2h2.2V982.8h-2.2zM1908.42 949.2h2.2V982.8h-2.2zM1911.21 945.7h2.2V982.8h-2.2zM1914.01 945.7h2.2V982.8h-2.2zM1916.8 945.7h2.2V982.8h-2.2zM1919.6 940.4h2.2V982.8h-2.2zM1922.4 940.4h2.2V982.8h-2.2zM1925.19 940.4h2.2V982.8h-2.2zM1927.99 924h2.2V982.8h-2.2zM1930.79 921.1h2.2V982.8h-2.2zM1933.58 923.4h2.2V982.8h-2.2zM1936.38 927.5h2.2V982.8h-2.2zM1939.17 929.9h2.2V982.8h-2.2zM1941.97 940.4h2.2V982.8h-2.2zM1944.77 940.4h2.2V982.8h-2.2zM1947.56 940.4h2.2V982.8h-2.2zM1950.36 940.4h2.2V982.8h-2.2zM1953.15 940.4h2.2V982.8h-2.2zM1955.95 940.4h2.2V982.8h-2.2zM1958.75 940.4h2.2V982.8h-2.2zM1961.54 931.6h2.2V982.8h-2.2zM1964.34 931.6h2.2V982.8h-2.2zM1967.13 933.4h2.2V982.8h-2.2zM1969.93 933.4h2.2V982.8h-2.2zM1972.73 933.4h2.2V982.8h-2.2zM1975.52 937.7h2.2V982.8h-2.2zM1978.32 940.4h2.2V982.8h-2.2zM1981.12 940.4h2.2V982.8h-2.2zM1983.91 940.4h2.2V982.8h-2.2zM1986.71 945.1h2.2V982.8h-2.2zM1989.5 941h2.2V982.8h-2.2zM1992.3 953.7h2.2V982.8h-2.2zM1995.1 956.8h2.2V982.8h-2.2zM1997.89 959.8h2.2V982.8h-2.2zM2000.69 959.8h2.2V982.8h-2.2zM2003.48 959.8h2.2V982.8h-2.2zM2006.28 959.8h2.2V982.8h-2.2zM2009.08 959.8h2.2V982.8h-2.2zM2011.87 959.8h2.2V982.8h-2.2zM2014.67 961.9h2.2V982.8h-2.2zM2017.46 961.9h2.2V982.8h-2.2zM2020.26 961.9h2.2V982.8h-2.2zM2023.06 961.9h2.2V982.8h-2.2zM2025.85 964h2.2V982.8h-2.2zM2028.65 964h2.2V982.8h-2.2zM2031.44 969.3h2.2V982.8h-2.2zM2034.24 969.3h2.2V982.8h-2.2zM2037.04 971.1h2.2V982.8h-2.2zM2039.83 971.1h2.2V982.8h-2.2zM2042.63 971.1h2.2V982.8h-2.2zM2045.43 971.1h2.2V982.8h-2.2zM2048.22 971.1h2.2V982.8h-2.2zM2051.02 971.1h2.2V982.8h-2.2zM2053.81 971.1h2.2V982.8h-2.2zM2056.61 976.4h2.2V982.8h-2.2zM2059.41 976.4h2.2V982.8h-2.2zM2062.2 976.4h2.2V982.8h-2.2zM2065 976.4h2.2V982.8h-2.2zM2067.79 976.4h2.2V982.8h-2.2zM2070.59 976.4h2.2V982.8h-2.2zM2073.39 976.4h2.2V982.8h-2.2zM2076.18 976.4h2.2V982.8h-2.2zM2078.98 976.4h2.2V982.8h-2.2zM2081.77 976.4h2.2V982.8h-2.2zM2084.57 976.4h2.2V982.8h-2.2zM2087.37 976.4h2.2V982.8h-2.2zM2090.16 976.4h2.2V982.8h-2.2zM2092.96 976.7h2.2V982.8h-2.2zM2095.76 976.7h2.2V982.8h-2.2zM2098.55 976.7h2.2V982.8h-2.2zM2101.35 975h2.2V982.8h-2.2zM2104.14 972.2h2.2V982.8h-2.2zM2106.94 972.2h2.2V982.8h-2.2zM2109.74 972.2h2.2V982.8h-2.2zM2112.53 973.2h2.2V982.8h-2.2zM2115.33 973.2h2.2V982.8h-2.2zM2118.12 973.2h2.2V982.8h-2.2zM2120.92 975.3h2.2V982.8h-2.2zM2123.72 975.3h2.2V982.8h-2.2zM2126.51 975.3h2.2V982.8h-2.2zM2129.31 975.3h2.2V982.8h-2.2zM2132.1 975.3h2.2V982.8h-2.2zM2134.9 975.3h2.2V982.8h-2.2zM2137.7 975.3h2.2V982.8h-2.2zM2140.49 975.3h2.2V982.8h-2.2zM2143.29 975.3h2.2V982.8h-2.2zM2146.09 975.3h2.2V982.8h-2.2zM2148.88 975.3h2.2V982.8h-2.2zM2151.68 975.3h2.2V982.8h-2.2zM2154.47 975.3h2.2V982.8h-2.2zM2157.27 975.3h2.2V982.8h-2.2zM2160.07 976.4h2.2V982.8h-2.2zM2162.86 976.4h2.2V982.8h-2.2zM2165.66 976.4h2.2V982.8h-2.2zM2168.45 979h2.2V982.8h-2.2zM2171.25 982.2h2.2V982.8h-2.2zM2174.05 982.2h2.2V982.8h-2.2zM2176.84 982.2h2.2V982.8h-2.2zM2179.64 982.2h2.2V982.8h-2.2zM2182.43 982.2h2.2V982.8h-2.2zM2243.95 982.2h2.2V982.8h-2.2zM2246.74 982.2h2.2V982.8h-2.2zM2249.54 982.2h2.2V982.8h-2.2zM2252.34 982.2h2.2V982.8h-2.2zM2255.13 982.2h2.2V982.8h-2.2zM2257.93 982.2h2.2V982.8h-2.2zM2260.73 981.5h2.2V982.8h-2.2zM2263.52 981.5h2.2V982.8h-2.2zM2266.32 981.5h2.2V982.8h-2.2zM2269.11 981.5h2.2V982.8h-2.2zM2271.91 981.5h2.2V982.8h-2.2zM2274.71 981.5h2.2V982.8h-2.2zM2277.5 981.5h2.2V982.8h-2.2zM2280.3 981.5h2.2V982.8h-2.2zM2283.09 981.5h2.2V982.8h-2.2z" fill="#1fd883"/>
<path d="M272.7 982.8h2.2V987.8h-2.2zM275.49 982.8h2.2V987.8h-2.2zM278.29 982.8h2.2V987.8h-2.2zM281.09 982.8h2.2V987.8h-2.2zM283.88 982.8h2.2V986.9h-2.2zM286.68 982.8h2.2V986.9h-2.2zM289.47 982.8h2.2V986.3h-2.2zM292.27 982.8h2.2V986.3h-2.2zM295.07 982.8h2.2V986.3h-2.2zM297.86 982.8h2.2V986.3h-2.2zM300.66 982.8h2.2V984h-2.2zM303.46 982.8h2.2V983.1h-2.2zM306.25 982.8h2.2V983.1h-2.2zM309.05 982.8h2.2V983.1h-2.2zM311.84 982.8h2.2V983.1h-2.2zM314.64 982.8h2.2V983.1h-2.2zM317.44 982.8h2.2V983.1h-2.2zM320.23 982.8h2.2V983.1h-2.2zM323.03 982.8h2.2V983.1h-2.2zM325.82 982.8h2.2V983.1h-2.2zM328.62 982.8h2.2V983.1h-2.2zM331.42 982.8h2.2V983.1h-2.2zM334.21 982.8h2.2V983.1h-2.2zM337.01 982.8h2.2V983.1h-2.2zM339.8 982.8h2.2V983.1h-2.2zM342.6 982.8h2.2V983.1h-2.2zM345.4 982.8h2.2V983.1h-2.2zM348.19 982.8h2.2V983.1h-2.2zM350.99 982.8h2.2V983.1h-2.2zM353.78 982.8h2.2V983.1h-2.2zM356.58 982.8h2.2V984.5h-2.2zM359.38 982.8h2.2V984.5h-2.2zM362.17 982.8h2.2V984.5h-2.2zM364.97 982.8h2.2V987.5h-2.2zM367.77 982.8h2.2V987.5h-2.2zM370.56 982.8h2.2V987.5h-2.2zM373.36 982.8h2.2V987.5h-2.2zM376.15 982.8h2.2V992.1h-2.2zM378.95 982.8h2.2V992.1h-2.2zM381.75 982.8h2.2V1003.3h-2.2zM384.54 982.8h2.2V1006.2h-2.2zM387.34 982.8h2.2V1006.2h-2.2zM390.13 982.8h2.2V1006.2h-2.2zM392.93 982.8h2.2V1006.2h-2.2zM395.73 982.8h2.2V1006.2h-2.2zM398.52 982.8h2.2V1006.2h-2.2zM401.32 982.8h2.2V1006.2h-2.2zM404.11 982.8h2.2V1006.2h-2.2zM406.91 982.8h2.2V1006.2h-2.2zM409.71 982.8h2.2V1007h-2.2zM412.5 982.8h2.2V1007h-2.2zM415.3 982.8h2.2V1007h-2.2zM418.1 982.8h2.2V1007h-2.2zM420.89 982.8h2.2V1007h-2.2zM423.69 982.8h2.2V1016.8h-2.2zM426.48 982.8h2.2V1023.2h-2.2zM429.28 982.8h2.2V1023.2h-2.2zM432.08 982.8h2.2V1020.9h-2.2zM434.87 982.8h2.2V1020.9h-2.2zM437.67 982.8h2.2V1020.9h-2.2zM440.46 982.8h2.2V1022h-2.2zM443.26 982.8h2.2V1018.3h-2.2zM446.06 982.8h2.2V1018.3h-2.2zM448.85 982.8h2.2V1006.8h-2.2zM451.65 982.8h2.2V1004.5h-2.2zM454.44 982.8h2.2V1010.1h-2.2zM457.24 982.8h2.2V1010.1h-2.2zM460.04 982.8h2.2V1010.1h-2.2zM462.83 982.8h2.2V1010.1h-2.2zM465.63 982.8h2.2V1010.1h-2.2zM468.43 982.8h2.2V1010.1h-2.2zM471.22 982.8h2.2V1010.1h-2.2zM474.02 982.8h2.2V1009.1h-2.2zM476.81 982.8h2.2V1009.1h-2.2zM479.61 982.8h2.2V1009.1h-2.2zM482.41 982.8h2.2V1009.1h-2.2zM485.2 982.8h2.2V1009.1h-2.2zM488 982.8h2.2V1009.1h-2.2zM490.79 982.8h2.2V993.7h-2.2zM493.59 982.8h2.2V993.7h-2.2zM496.39 982.8h2.2V993.7h-2.2zM499.18 982.8h2.2V993.7h-2.2zM501.98 982.8h2.2V995.3h-2.2zM504.77 982.8h2.2V995.3h-2.2zM507.57 982.8h2.2V997.8h-2.2zM510.37 982.8h2.2V997.8h-2.2zM513.16 982.8h2.2V997.8h-2.2zM515.96 982.8h2.2V997.8h-2.2zM518.75 982.8h2.2V997.8h-2.2zM521.55 982.8h2.2V993h-2.2zM524.35 982.8h2.2V993h-2.2zM527.14 982.8h2.2V993h-2.2zM529.94 982.8h2.2V993h-2.2zM532.74 982.8h2.2V993h-2.2zM535.53 982.8h2.2V993h-2.2zM538.33 982.8h2.2V993h-2.2zM541.12 982.8h2.2V993h-2.2zM543.92 982.8h2.2V1033.75h-2.2zM546.72 982.8h2.2V1035.9h-2.2zM549.51 982.8h2.2V1035.9h-2.2zM552.31 982.8h2.2V1039h-2.2zM555.1 982.8h2.2V1039.6h-2.2zM557.9 982.8h2.2V1039.6h-2.2zM560.7 982.8h2.2V1046h-2.2zM563.49 982.8h2.2V1047.8h-2.2zM566.29 982.8h2.2V1053.1h-2.2zM569.08 982.8h2.2V1051.3h-2.2zM571.88 982.8h2.2V1051.3h-2.2zM574.68 982.8h2.2V1047.8h-2.2zM577.47 982.8h2.2V1047.8h-2.2zM580.27 982.8h2.2V1047.2h-2.2zM583.07 982.8h2.2V1047.2h-2.2zM585.86 982.8h2.2V1054.3h-2.2zM588.66 982.8h2.2V1069.5h-2.2zM591.45 982.8h2.2V1069.5h-2.2zM594.25 982.8h2.2V1069.5h-2.2zM597.05 982.8h2.2V1069.5h-2.2zM599.84 982.8h2.2V1069.5h-2.2zM602.64 982.8h2.2V1069.5h-2.2zM605.43 982.8h2.2V1069.5h-2.2zM608.23 982.8h2.2V1069.5h-2.2zM611.03 982.8h2.2V1029h-2.2zM613.82 982.8h2.2V1027.3h-2.2zM616.62 982.8h2.2V1023.8h-2.2zM619.41 982.8h2.2V1023.8h-2.2zM622.21 982.8h2.2V1023.8h-2.2zM625.01 982.8h2.2V1026.1h-2.2zM627.8 982.8h2.2V1019.7h-2.2zM630.6 982.8h2.2V1019.7h-2.2zM633.39 982.8h2.2V1019.7h-2.2zM636.19 982.8h2.2V1019.7h-2.2zM638.99 982.8h2.2V1024.4h-2.2zM641.78 982.8h2.2V1032h-2.2zM644.58 982.8h2.2V1032h-2.2zM647.38 982.8h2.2V1032h-2.2zM650.17 982.8h2.2V1032h-2.2zM652.97 982.8h2.2V1024.4h-2.2zM655.76 982.8h2.2V1010.1h-2.2zM658.56 982.8h2.2V1010.1h-2.2zM661.36 982.8h2.2V1010.1h-2.2zM664.15 982.8h2.2V1010.1h-2.2zM666.95 982.8h2.2V1010.1h-2.2zM669.74 982.8h2.2V1010.1h-2.2zM672.54 982.8h2.2V1010.1h-2.2zM675.34 982.8h2.2V1010.1h-2.2zM678.13 982.8h2.2V1010.1h-2.2zM680.93 982.8h2.2V1010.1h-2.2zM683.72 982.8h2.2V1010.1h-2.2zM686.52 982.8h2.2V1010.1h-2.2zM689.32 982.8h2.2V1010.1h-2.2zM692.11 982.8h2.2V1010.1h-2.2zM694.91 982.8h2.2V1010.5h-2.2zM697.71 982.8h2.2V1023.2h-2.2zM700.5 982.8h2.2V1043.1h-2.2zM703.3 982.8h2.2V1043.1h-2.2zM706.09 982.8h2.2V1041.4h-2.2zM708.89 982.8h2.2V1033.75h-2.2zM711.69 982.8h2.2V1033.75h-2.2zM714.48 982.8h2.2V1033.75h-2.2zM717.28 982.8h2.2V1033.75h-2.2zM720.07 982.8h2.2V1033.75h-2.2zM722.87 982.8h2.2V1033.75h-2.2zM725.67 982.8h2.2V1033.75h-2.2zM728.46 982.8h2.2V1033.75h-2.2zM731.26 982.8h2.2V1033.75h-2.2zM734.05 982.8h2.2V1033.75h-2.2zM736.85 982.8h2.2V1033.75h-2.2zM739.65 982.8h2.2V1033.75h-2.2zM742.44 982.8h2.2V1033.75h-2.2zM745.24 982.8h2.2V1033.75h-2.2zM748.04 982.8h2.2V1033.75h-2.2zM750.83 982.8h2.2V1031.4h-2.2zM753.63 982.8h2.2V1031.4h-2.2zM756.42 982.8h2.2V1031.4h-2.2zM759.22 982.8h2.2V1031.4h-2.2zM762.02 982.8h2.2V1013.2h-2.2zM764.81 982.8h2.2V1013.2h-2.2zM767.61 982.8h2.2V989.2h-2.2zM770.4 982.8h2.2V985.5h-2.2zM773.2 982.8h2.2V985.5h-2.2zM776 982.8h2.2V985.5h-2.2zM778.79 982.8h2.2V985.5h-2.2zM781.59 982.8h2.2V985.5h-2.2zM784.38 982.8h2.2V985.5h-2.2zM787.18 982.8h2.2V985.5h-2.2zM789.98 982.8h2.2V985.5h-2.2zM792.77 982.8h2.2V1003.9h-2.2zM795.57 982.8h2.2V1003.9h-2.2zM798.36 982.8h2.2V1003.9h-2.2zM801.16 982.8h2.2V1027.7h-2.2zM803.96 982.8h2.2V1027.7h-2.2zM806.75 982.8h2.2V1027.7h-2.2zM809.55 982.8h2.2V1027.7h-2.2zM812.35 982.8h2.2V1027.7h-2.2zM815.14 982.8h2.2V1027.7h-2.2zM817.94 982.8h2.2V1027.7h-2.2zM820.73 982.8h2.2V1027.7h-2.2zM823.53 982.8h2.2V1027.7h-2.2zM826.33 982.8h2.2V1027.7h-2.2zM829.12 982.8h2.2V1027.7h-2.2zM831.92 982.8h2.2V1027.7h-2.2zM834.71 982.8h2.2V1027.7h-2.2zM837.51 982.8h2.2V1027.7h-2.2zM840.31 982.8h2.2V1027.7h-2.2zM843.1 982.8h2.2V1027.7h-2.2zM845.9 982.8h2.2V1027.7h-2.2zM848.69 982.8h2.2V1027.7h-2.2zM851.49 982.8h2.2V1027.7h-2.2zM854.29 982.8h2.2V1027.7h-2.2zM857.08 982.8h2.2V1030.2h-2.2zM859.88 982.8h2.2V1030.2h-2.2zM862.68 982.8h2.2V1013.1h-2.2zM865.47 982.8h2.2V1013.1h-2.2zM868.27 982.8h2.2V988.8h-2.2zM871.06 982.8h2.2V989.6h-2.2zM873.86 982.8h2.2V989.6h-2.2zM876.66 982.8h2.2V989.6h-2.2zM879.45 982.8h2.2V989.6h-2.2zM882.25 982.8h2.2V990.8h-2.2zM885.04 982.8h2.2V990.8h-2.2zM887.84 982.8h2.2V990.8h-2.2zM890.64 982.8h2.2V990.8h-2.2zM893.43 982.8h2.2V993.75h-2.2zM896.23 982.8h2.2V996.1h-2.2zM899.02 982.8h2.2V998.4h-2.2zM901.82 982.8h2.2V998.4h-2.2zM904.62 982.8h2.2V1002h-2.2zM907.41 982.8h2.2V1007.2h-2.2zM910.21 982.8h2.2V1007.2h-2.2zM913 982.8h2.2V1007.2h-2.2zM915.8 982.8h2.2V1007.2h-2.2zM918.6 982.8h2.2V1007.2h-2.2zM921.39 982.8h2.2V1007.2h-2.2zM924.19 982.8h2.2V1004.3h-2.2zM926.99 982.8h2.2V1003.7h-2.2zM929.78 982.8h2.2V1003.7h-2.2zM932.58 982.8h2.2V1003.7h-2.2zM935.37 982.8h2.2V1003.7h-2.2zM938.17 982.8h2.2V1003.7h-2.2zM940.97 982.8h2.2V1003.1h-2.2zM943.76 982.8h2.2V1003.1h-2.2zM946.56 982.8h2.2V1003.1h-2.2zM949.35 982.8h2.2V1003.1h-2.2zM952.15 982.8h2.2V1003.1h-2.2zM954.95 982.8h2.2V1003.1h-2.2zM957.74 982.8h2.2V1003.1h-2.2zM960.54 982.8h2.2V1002h-2.2zM963.33 982.8h2.2V1002h-2.2zM966.13 982.8h2.2V999h-2.2zM968.93 982.8h2.2V999h-2.2zM971.72 982.8h2.2V994.9h-2.2zM974.52 982.8h2.2V991.4h-2.2zM977.32 982.8h2.2V991.4h-2.2zM980.11 982.8h2.2V991.4h-2.2zM982.91 982.8h2.2V991.4h-2.2zM985.7 982.8h2.2V991.4h-2.2zM988.5 982.8h2.2V991.4h-2.2zM991.3 982.8h2.2V991.4h-2.2zM994.09 982.8h2.2V991.4h-2.2zM996.89 982.8h2.2V991.4h-2.2zM999.68 982.8h2.2V991.4h-2.2zM1002.48 982.8h2.2V991.4h-2.2zM1005.28 982.8h2.2V991.4h-2.2zM1008.07 982.8h2.2V991.4h-2.2zM1010.87 982.8h2.2V991.4h-2.2zM1013.66 982.8h2.2V994.9h-2.2zM1016.46 982.8h2.2V994.9h-2.2zM1019.26 982.8h2.2V994.9h-2.2zM1022.05 982.8h2.2V994.9h-2.2zM1024.85 982.8h2.2V992h-2.2zM1027.65 982.8h2.2V992h-2.2zM1030.44 982.8h2.2V994.9h-2.2zM1033.24 982.8h2.2V994.9h-2.2zM1036.03 982.8h2.2V994.9h-2.2zM1038.83 982.8h2.2V1006.4h-2.2zM1041.63 982.8h2.2V1006.4h-2.2zM1044.42 982.8h2.2V1004.3h-2.2zM1047.22 982.8h2.2V1004.3h-2.2zM1050.01 982.8h2.2V1004.3h-2.2zM1052.81 982.8h2.2V1004.3h-2.2zM1055.61 982.8h2.2V1004.3h-2.2zM1058.4 982.8h2.2V1004.3h-2.2zM1061.2 982.8h2.2V1004.3h-2.2zM1063.99 982.8h2.2V1004.3h-2.2zM1066.79 982.8h2.2V1004.3h-2.2zM1069.59 982.8h2.2V1004.3h-2.2zM1072.38 982.8h2.2V1004.3h-2.2zM1075.18 982.8h2.2V1004.3h-2.2zM1077.97 982.8h2.2V1004.3h-2.2zM1080.77 982.8h2.2V1001.4h-2.2zM1083.57 982.8h2.2V1001.4h-2.2zM1086.36 982.8h2.2V1001.4h-2.2zM1089.16 982.8h2.2V1001.4h-2.2zM1091.96 982.8h2.2V1007.2h-2.2zM1094.75 982.8h2.2V1007.2h-2.2zM1097.55 982.8h2.2V1003.7h-2.2zM1100.34 982.8h2.2V1004.9h-2.2zM1103.14 982.8h2.2V1004.9h-2.2zM1105.94 982.8h2.2V993.75h-2.2zM1108.73 982.8h2.2V993.75h-2.2zM1111.53 982.8h2.2V993.75h-2.2zM1114.32 982.8h2.2V993.75h-2.2zM1117.12 982.8h2.2V993.75h-2.2zM1119.92 982.8h2.2V996.1h-2.2zM1122.71 982.8h2.2V996.1h-2.2zM1125.51 982.8h2.2V996.1h-2.2zM1128.3 982.8h2.2V996.1h-2.2zM1131.1 982.8h2.2V996.1h-2.2zM1133.9 982.8h2.2V996.1h-2.2zM1136.69 982.8h2.2V996.1h-2.2zM1139.49 982.8h2.2V996.1h-2.2zM1142.29 982.8h2.2V996.1h-2.2zM1145.08 982.8h2.2V999h-2.2zM1147.88 982.8h2.2V999h-2.2zM1150.67 982.8h2.2V999h-2.2zM1153.47 982.8h2.2V999h-2.2zM1156.27 982.8h2.2V996.1h-2.2zM1159.06 982.8h2.2V993.75h-2.2zM1161.86 982.8h2.2V994.4h-2.2zM1164.65 982.8h2.2V994.4h-2.2zM1167.45 982.8h2.2V994.4h-2.2zM1170.25 982.8h2.2V994.4h-2.2zM1173.04 982.8h2.2V994.4h-2.2zM1175.84 982.8h2.2V994.4h-2.2zM1178.63 982.8h2.2V994.4h-2.2zM1181.43 982.8h2.2V996.9h-2.2zM1184.23 982.8h2.2V1086.8h-2.2zM1187.02 982.8h2.2V1088.7h-2.2zM1189.82 982.8h2.2V1091h-2.2zM1192.61 982.8h2.2V1093.8h-2.2zM1195.41 982.8h2.2V1093.8h-2.2zM1198.21 982.8h2.2V1095.8h-2.2zM1201 982.8h2.2V1095.8h-2.2zM1203.8 982.8h2.2V1096.4h-2.2zM1206.6 982.8h2.2V1095.5h-2.2zM1209.39 982.8h2.2V1095.5h-2.2zM1212.19 982.8h2.2V1093.4h-2.2zM1214.98 982.8h2.2V1093.4h-2.2zM1217.78 982.8h2.2V1093.4h-2.2zM1220.58 982.8h2.2V1094.3h-2.2zM1223.37 982.8h2.2V1094.3h-2.2zM1226.17 982.8h2.2V1094.3h-2.2zM1228.96 982.8h2.2V1092.2h-2.2zM1231.76 982.8h2.2V1092.2h-2.2zM1234.56 982.8h2.2V1091h-2.2zM1237.35 982.8h2.2V1091h-2.2zM1240.15 982.8h2.2V1091h-2.2zM1242.94 982.8h2.2V1091h-2.2zM1245.74 982.8h2.2V1089.6h-2.2zM1248.54 982.8h2.2V1086.8h-2.2zM1251.33 982.8h2.2V996.25h-2.2zM1254.13 982.8h2.2V994.4h-2.2zM1256.93 982.8h2.2V991.9h-2.2zM1259.72 982.8h2.2V989h-2.2zM1262.52 982.8h2.2V989h-2.2zM1265.31 982.8h2.2V987.5h-2.2zM1268.11 982.8h2.2V987.5h-2.2zM1270.91 982.8h2.2V991.25h-2.2zM1273.7 982.8h2.2V991.25h-2.2zM1276.5 982.8h2.2V991.5h-2.2zM1279.29 982.8h2.2V991.5h-2.2zM1282.09 982.8h2.2V991.5h-2.2zM1284.89 982.8h2.2V991.5h-2.2zM1287.68 982.8h2.2V991.5h-2.2zM1290.48 982.8h2.2V991.5h-2.2zM1293.27 982.8h2.2V991.5h-2.2zM1296.07 982.8h2.2V991.5h-2.2zM1298.87 982.8h2.2V997.5h-2.2zM1301.66 982.8h2.2V1006.9h-2.2zM1304.46 982.8h2.2V1011.9h-2.2zM1307.26 982.8h2.2V1011.9h-2.2zM1310.05 982.8h2.2V1011.9h-2.2zM1312.85 982.8h2.2V1011.9h-2.2zM1315.64 982.8h2.2V1015h-2.2zM1318.44 982.8h2.2V1015h-2.2zM1321.24 982.8h2.2V1017.25h-2.2zM1324.03 982.8h2.2V1017.25h-2.2zM1326.83 982.8h2.2V1018.75h-2.2zM1329.62 982.8h2.2V1018.75h-2.2zM1332.42 982.8h2.2V1018.75h-2.2zM1335.22 982.8h2.2V1016.25h-2.2zM1338.01 982.8h2.2V1014.75h-2.2zM1340.81 982.8h2.2V1014.75h-2.2zM1343.6 982.8h2.2V1014.75h-2.2zM1346.4 982.8h2.2V1016.5h-2.2zM1349.2 982.8h2.2V1016.5h-2.2zM1351.99 982.8h2.2V1016.5h-2.2zM1354.79 982.8h2.2V1016.5h-2.2zM1357.58 982.8h2.2V1016.5h-2.2zM1360.38 982.8h2.2V1016.5h-2.2zM1363.18 982.8h2.2V1017.5h-2.2zM1365.97 982.8h2.2V1011.9h-2.2zM1368.77 982.8h2.2V1002.5h-2.2zM1371.57 982.8h2.2V999.4h-2.2zM1374.36 982.8h2.2V999.4h-2.2zM1377.16 982.8h2.2V999.4h-2.2zM1379.95 982.8h2.2V998.1h-2.2zM1382.75 982.8h2.2V998.1h-2.2zM1385.55 982.8h2.2V998.1h-2.2zM1388.34 982.8h2.2V995.6h-2.2zM1391.14 982.8h2.2V995.6h-2.2zM1393.93 982.8h2.2V994h-2.2zM1396.73 982.8h2.2V994h-2.2zM1399.53 982.8h2.2V994h-2.2zM1402.32 982.8h2.2V994h-2.2zM1405.12 982.8h2.2V994h-2.2zM1407.91 982.8h2.2V994h-2.2zM1410.71 982.8h2.2V994h-2.2zM1413.51 982.8h2.2V991.5h-2.2zM1416.3 982.8h2.2V991.5h-2.2zM1419.1 982.8h2.2V991.5h-2.2zM1421.9 982.8h2.2V991.5h-2.2zM1424.69 982.8h2.2V993.75h-2.2zM1427.49 982.8h2.2V993.75h-2.2zM1430.28 982.8h2.2V993.75h-2.2zM1433.08 982.8h2.2V998.1h-2.2zM1435.88 982.8h2.2V998.1h-2.2zM1438.67 982.8h2.2V998.1h-2.2zM1441.47 982.8h2.2V999h-2.2zM1444.26 982.8h2.2V997.9h-2.2zM1447.06 982.8h2.2V997.9h-2.2zM1449.86 982.8h2.2V997.9h-2.2zM1452.65 982.8h2.2V997.9h-2.2zM1455.45 982.8h2.2V997.9h-2.2zM1458.24 982.8h2.2V997.9h-2.2zM1461.04 982.8h2.2V997.9h-2.2zM1463.84 982.8h2.2V997.9h-2.2zM1466.63 982.8h2.2V999.4h-2.2zM1469.43 982.8h2.2V999.4h-2.2zM1472.22 982.8h2.2V998.7h-2.2zM1475.02 982.8h2.2V998.7h-2.2zM1477.82 982.8h2.2V998.7h-2.2zM1480.61 982.8h2.2V998.7h-2.2zM1483.41 982.8h2.2V1002.5h-2.2zM1486.21 982.8h2.2V1002.5h-2.2zM1489 982.8h2.2V1001.4h-2.2zM1491.8 982.8h2.2V1001.4h-2.2zM1494.59 982.8h2.2V1000.2h-2.2zM1497.39 982.8h2.2V1000.2h-2.2zM1500.19 982.8h2.2V996.1h-2.2zM1502.98 982.8h2.2V994.7h-2.2zM1505.78 982.8h2.2V994.7h-2.2zM1508.57 982.8h2.2V994.7h-2.2zM1511.37 982.8h2.2V994.7h-2.2zM1514.17 982.8h2.2V993.75h-2.2zM1516.96 982.8h2.2V993.75h-2.2zM1519.76 982.8h2.2V993.75h-2.2zM1522.55 982.8h2.2V993.75h-2.2zM1525.35 982.8h2.2V993.75h-2.2zM1528.15 982.8h2.2V993.75h-2.2zM1530.94 982.8h2.2V993.75h-2.2zM1533.74 982.8h2.2V993.75h-2.2zM1536.54 982.8h2.2V993.75h-2.2zM1539.33 982.8h2.2V993.75h-2.2zM1542.13 982.8h2.2V993.75h-2.2zM1544.92 982.8h2.2V993.75h-2.2zM1547.72 982.8h2.2V993.75h-2.2zM1550.52 982.8h2.2V990.8h-2.2zM1553.31 982.8h2.2V993.75h-2.2zM1556.11 982.8h2.2V993.75h-2.2zM1558.9 982.8h2.2V993.75h-2.2zM1561.7 982.8h2.2V994.3h-2.2zM1564.5 982.8h2.2V994.3h-2.2zM1567.29 982.8h2.2V994.3h-2.2zM1570.09 982.8h2.2V994.3h-2.2zM1572.88 982.8h2.2V995.5h-2.2zM1575.68 982.8h2.2V995.5h-2.2zM1578.48 982.8h2.2V995.5h-2.2zM1581.27 982.8h2.2V994.9h-2.2zM1584.07 982.8h2.2V994.9h-2.2zM1586.87 982.8h2.2V994.9h-2.2zM1589.66 982.8h2.2V994.9h-2.2zM1592.46 982.8h2.2V994.9h-2.2zM1595.25 982.8h2.2V994.9h-2.2zM1598.05 982.8h2.2V994.9h-2.2zM1600.85 982.8h2.2V994.9h-2.2zM1603.64 982.8h2.2V996.1h-2.2zM1606.44 982.8h2.2V996.1h-2.2zM1609.23 982.8h2.2V996.7h-2.2zM1612.03 982.8h2.2V996.7h-2.2zM1614.83 982.8h2.2V996.7h-2.2zM1617.62 982.8h2.2V998.4h-2.2zM1620.42 982.8h2.2V998.4h-2.2zM1623.21 982.8h2.2V998.4h-2.2zM1626.01 982.8h2.2V1006.1h-2.2zM1628.81 982.8h2.2V1006.1h-2.2zM1631.6 982.8h2.2V1006.9h-2.2zM1634.4 982.8h2.2V1006.9h-2.2zM1637.19 982.8h2.2V1011.1h-2.2zM1639.99 982.8h2.2V1011.1h-2.2zM1642.79 982.8h2.2V1011.1h-2.2zM1645.58 982.8h2.2V1011.1h-2.2zM1648.38 982.8h2.2V1011.1h-2.2zM1651.18 982.8h2.2V1011.1h-2.2zM1653.97 982.8h2.2V1011.9h-2.2zM1656.77 982.8h2.2V1011.9h-2.2zM1659.56 982.8h2.2V1011.9h-2.2zM1662.36 982.8h2.2V1011.9h-2.2zM1665.16 982.8h2.2V1011.9h-2.2zM1667.95 982.8h2.2V1011.9h-2.2zM1670.75 982.8h2.2V1009.6h-2.2zM1673.54 982.8h2.2V1009.6h-2.2zM1676.34 982.8h2.2V1009.6h-2.2zM1679.14 982.8h2.2V1009.6h-2.2zM1681.93 982.8h2.2V1004.9h-2.2zM1684.73 982.8h2.2V1004.9h-2.2zM1687.52 982.8h2.2V1004.9h-2.2zM1690.32 982.8h2.2V1004.9h-2.2zM1693.12 982.8h2.2V995.5h-2.2zM1695.91 982.8h2.2V995.5h-2.2zM1698.71 982.8h2.2V995.5h-2.2zM1701.51 982.8h2.2V990.2h-2.2zM1704.3 982.8h2.2V987.3h-2.2zM1707.1 982.8h2.2V987.3h-2.2zM1709.89 982.8h2.2V987.3h-2.2zM1712.69 982.8h2.2V987.3h-2.2zM1715.49 982.8h2.2V987.3h-2.2zM1718.28 982.8h2.2V986.1h-2.2zM1721.08 982.8h2.2V986.1h-2.2zM1723.87 982.8h2.2V986.1h-2.2zM1726.67 982.8h2.2V986.1h-2.2zM1729.47 982.8h2.2V986.1h-2.2zM1732.26 982.8h2.2V986.1h-2.2zM1735.06 982.8h2.2V985.5h-2.2zM1737.85 982.8h2.2V985.5h-2.2zM1740.65 982.8h2.2V985.5h-2.2zM1743.45 982.8h2.2V985.5h-2.2zM1746.24 982.8h2.2V985.5h-2.2zM1749.04 982.8h2.2V985.5h-2.2zM1751.83 982.8h2.2V985.5h-2.2zM1754.63 982.8h2.2V990.8h-2.2zM1757.43 982.8h2.2V992.6h-2.2zM1760.22 982.8h2.2V992.6h-2.2zM1763.02 982.8h2.2V992.6h-2.2zM1765.82 982.8h2.2V992.6h-2.2zM1768.61 982.8h2.2V996.7h-2.2zM1771.41 982.8h2.2V996.7h-2.2zM1774.2 982.8h2.2V1000.2h-2.2zM1777 982.8h2.2V1004.9h-2.2zM1779.8 982.8h2.2V1004.9h-2.2zM1782.59 982.8h2.2V1004.9h-2.2zM1785.39 982.8h2.2V1004.9h-2.2zM1788.18 982.8h2.2V1004.9h-2.2zM1790.98 982.8h2.2V1004.9h-2.2zM1793.78 982.8h2.2V1004.9h-2.2zM1796.57 982.8h2.2V1004.9h-2.2zM1799.37 982.8h2.2V1004.9h-2.2zM1802.16 982.8h2.2V1007.8h-2.2zM1804.96 982.8h2.2V1013.9h-2.2zM1807.76 982.8h2.2V1013.9h-2.2zM1810.55 982.8h2.2V1017.2h-2.2zM1813.35 982.8h2.2V1017.2h-2.2zM1816.15 982.8h2.2V1017.2h-2.2zM1818.94 982.8h2.2V1017.2h-2.2zM1821.74 982.8h2.2V1011.3h-2.2zM1824.53 982.8h2.2V1011.3h-2.2zM1827.33 982.8h2.2V1011.3h-2.2zM1830.13 982.8h2.2V1011.3h-2.2zM1832.92 982.8h2.2V1008.4h-2.2zM1835.72 982.8h2.2V1008.4h-2.2zM1838.51 982.8h2.2V1008.4h-2.2zM1841.31 982.8h2.2V1003.7h-2.2zM1844.11 982.8h2.2V1000.8h-2.2zM1846.9 982.8h2.2V1000.8h-2.2zM1849.7 982.8h2.2V1000.8h-2.2zM1852.49 982.8h2.2V1000.8h-2.2zM1855.29 982.8h2.2V1000.8h-2.2zM1858.09 982.8h2.2V1000.8h-2.2zM1860.88 982.8h2.2V1000.8h-2.2zM1863.68 982.8h2.2V1000.8h-2.2zM1866.48 982.8h2.2V1000.8h-2.2zM1869.27 982.8h2.2V997.9h-2.2zM1872.07 982.8h2.2V990.2h-2.2zM1874.86 982.8h2.2V990.2h-2.2zM1877.66 982.8h2.2V990.2h-2.2zM1880.46 982.8h2.2V990.2h-2.2zM1883.25 982.8h2.2V990.2h-2.2zM1886.05 982.8h2.2V990.2h-2.2zM1888.84 982.8h2.2V990.2h-2.2zM1891.64 982.8h2.2V990.2h-2.2zM1894.44 982.8h2.2V990.2h-2.2zM1897.23 982.8h2.2V992.6h-2.2zM1900.03 982.8h2.2V992.6h-2.2zM1902.82 982.8h2.2V1004.9h-2.2zM1905.62 982.8h2.2V1004.9h-2.2zM1908.42 982.8h2.2V1016.6h-2.2zM1911.21 982.8h2.2V1016h-2.2zM1914.01 982.8h2.2V1016h-2.2zM1916.8 982.8h2.2V1016h-2.2zM1919.6 982.8h2.2V1016h-2.2zM1922.4 982.8h2.2V1016h-2.2zM1925.19 982.8h2.2V1016h-2.2zM1927.99 982.8h2.2V1016h-2.2zM1930.79 982.8h2.2V1016h-2.2zM1933.58 982.8h2.2V1016h-2.2zM1936.38 982.8h2.2V1016h-2.2zM1939.17 982.8h2.2V1016h-2.2zM1941.97 982.8h2.2V1016h-2.2zM1944.77 982.8h2.2V1016h-2.2zM1947.56 982.8h2.2V1016h-2.2zM1950.36 982.8h2.2V1016h-2.2zM1953.15 982.8h2.2V1016h-2.2zM1955.95 982.8h2.2V1016h-2.2zM1958.75 982.8h2.2V1011.3h-2.2zM1961.54 982.8h2.2V1011.3h-2.2zM1964.34 982.8h2.2V1013.1h-2.2zM1967.13 982.8h2.2V1013.1h-2.2zM1969.93 982.8h2.2V1000.8h-2.2zM1972.73 982.8h2.2V996.1h-2.2zM1975.52 982.8h2.2V989.6h-2.2zM1978.32 982.8h2.2V989.6h-2.2zM1981.12 982.8h2.2V989.6h-2.2zM1983.91 982.8h2.2V989.6h-2.2zM1986.71 982.8h2.2V989.6h-2.2zM1989.5 982.8h2.2V989.6h-2.2zM1992.3 982.8h2.2V989.6h-2.2zM1995.1 982.8h2.2V989.6h-2.2zM1997.89 982.8h2.2V989.6h-2.2zM2000.69 982.8h2.2V989.6h-2.2zM2003.48 982.8h2.2V989.6h-2.2zM2006.28 982.8h2.2V989.6h-2.2zM2009.08 982.8h2.2V989.6h-2.2zM2011.87 982.8h2.2V989.6h-2.2zM2014.67 982.8h2.2V995.5h-2.2zM2017.46 982.8h2.2V995.5h-2.2zM2020.26 982.8h2.2V995.5h-2.2zM2023.06 982.8h2.2V995.5h-2.2zM2025.85 982.8h2.2V995.5h-2.2zM2028.65 982.8h2.2V995.5h-2.2zM2031.44 982.8h2.2V994.3h-2.2zM2034.24 982.8h2.2V994.3h-2.2zM2037.04 982.8h2.2V992.7h-2.2zM2039.83 982.8h2.2V992.7h-2.2zM2042.63 982.8h2.2V999.6h-2.2zM2045.43 982.8h2.2V1003.3h-2.2zM2048.22 982.8h2.2V1003.3h-2.2zM2051.02 982.8h2.2V1003.3h-2.2zM2053.81 982.8h2.2V1003.3h-2.2zM2056.61 982.8h2.2V1003.3h-2.2zM2059.41 982.8h2.2V1003.3h-2.2zM2062.2 982.8h2.2V1003.3h-2.2zM2065 982.8h2.2V1003.3h-2.2zM2067.79 982.8h2.2V1003.3h-2.2zM2070.59 982.8h2.2V1003.3h-2.2zM2073.39 982.8h2.2V1003.3h-2.2zM2076.18 982.8h2.2V1005.4h-2.2zM2078.98 982.8h2.2V1005.4h-2.2zM2081.77 982.8h2.2V1001h-2.2zM2084.57 982.8h2.2V1001h-2.2zM2087.37 982.8h2.2V1001h-2.2zM2090.16 982.8h2.2V1001h-2.2zM2092.96 982.8h2.2V1001h-2.2zM2095.76 982.8h2.2V1001h-2.2zM2098.55 982.8h2.2V1002.8h-2.2zM2101.35 982.8h2.2V1002.8h-2.2zM2104.14 982.8h2.2V1002.8h-2.2zM2106.94 982.8h2.2V1002.8h-2.2zM2109.74 982.8h2.2V995.4h-2.2zM2112.53 982.8h2.2V992.2h-2.2zM2115.33 982.8h2.2V992.2h-2.2zM2118.12 982.8h2.2V994h-2.2zM2120.92 982.8h2.2V994h-2.2zM2123.72 982.8h2.2V994h-2.2zM2126.51 982.8h2.2V994h-2.2zM2129.31 982.8h2.2V994h-2.2zM2132.1 982.8h2.2V994h-2.2zM2134.9 982.8h2.2V994h-2.2zM2137.7 982.8h2.2V994h-2.2zM2140.49 982.8h2.2V994h-2.2zM2143.29 982.8h2.2V990.1h-2.2zM2146.09 982.8h2.2V990.1h-2.2zM2148.88 982.8h2.2V988.7h-2.2zM2151.68 982.8h2.2V988.7h-2.2zM2154.47 982.8h2.2V988.7h-2.2zM2157.27 982.8h2.2V988.7h-2.2zM2160.07 982.8h2.2V988.7h-2.2zM2162.86 982.8h2.2V988.7h-2.2zM2165.66 982.8h2.2V986.4h-2.2zM2168.45 982.8h2.2V986.4h-2.2zM2171.25 982.8h2.2V985.4h-2.2zM2174.05 982.8h2.2V985.4h-2.2zM2176.84 982.8h2.2V985.4h-2.2zM2179.64 982.8h2.2V985.4h-2.2zM2182.43 982.8h2.2V985.4h-2.2zM2185.23 982.8h2.2V983.6h-2.2zM2188.03 982.8h2.2V983.6h-2.2zM2190.82 982.8h2.2V983.6h-2.2zM2193.62 982.8h2.2V983.6h-2.2zM2196.41 982.8h2.2V983.6h-2.2zM2199.21 982.8h2.2V983.6h-2.2zM2202.01 982.8h2.2V983.6h-2.2zM2204.8 982.8h2.2V983.6h-2.2zM2207.6 982.8h2.2V983.6h-2.2zM2210.4 982.8h2.2V983.6h-2.2zM2213.19 982.8h2.2V983.6h-2.2zM2215.99 982.8h2.2V983.6h-2.2zM2218.78 982.8h2.2V983.6h-2.2zM2221.58 982.8h2.2V983.6h-2.2zM2224.38 982.8h2.2V988h-2.2zM2227.17 982.8h2.2V988h-2.2zM2229.97 982.8h2.2V992.2h-2.2zM2232.76 982.8h2.2V996.7h-2.2zM2235.56 982.8h2.2V996.7h-2.2zM2238.36 982.8h2.2V996.7h-2.2zM2241.15 982.8h2.2V996.7h-2.2zM2243.95 982.8h2.2V996.7h-2.2zM2246.74 982.8h2.2V996.7h-2.2zM2249.54 982.8h2.2V996.7h-2.2zM2252.34 982.8h2.2V996.7h-2.2zM2255.13 982.8h2.2V996.7h-2.2zM2257.93 982.8h2.2V996.7h-2.2zM2260.73 982.8h2.2V1011.9h-2.2zM2263.52 982.8h2.2V1011.9h-2.2zM2266.32 982.8h2.2V1011.9h-2.2zM2269.11 982.8h2.2V1011.9h-2.2zM2271.91 982.8h2.2V1011.9h-2.2zM2274.71 982.8h2.2V1011.9h-2.2zM2277.5 982.8h2.2V1011.9h-2.2zM2280.3 982.8h2.2V1011.9h-2.2zM2283.09 982.8h2.2V1011.9h-2.2z" fill="#ff6262"/>
<g opacity="0.08"><text transform="scale(1.08 1)" x="658.37 793.74 840.05 971.43 1078.7 1179.98 1309.12 1446.36 1582.76" y="785.3" font-size="245" fill="#000000" stroke="#000000" stroke-width="2.5" stroke-linejoin="round">glassnode</text></g>
<path d="M271.3 939 L275.4 949 L280.6 941.7 L283.75 946 L286.5 942.5 L291 947.3 L295.2 942.5 L301.5 942.5 L304.6 941.5 L308.75 942.5 L314 936.5 L319.6 935.8 L322.9 945.8 L327.5 941.7 L333.75 945.6 L341 938.5 L345.2 938.5 L348.3 944 L351.5 944.8 L354.2 946.25 L356.7 934.8 L365 915 L369.2 914 L372.3 911.25 L376.5 893.75 L379.6 893 L381.7 853.5 L384.8 844.2 L387.9 842 L390 856.7 L393.75 861.25 L396.25 856.7 L400 859.8 L404.2 865 L409.8 848.3 L418.75 848.3 L421.7 852 L425 781.7 L426.5 779.6 L431.7 795.2 L434.8 779.6 L436.9 781.7 L441 772.3 L444.2 772.3 L448.3 775.4 L451.5 772.3 L455 762.5 L460 764.4 L463.75 768.75 L468.1 785 L471.25 785.6 L475 793.75 L477.5 801.25 L479.7 825.6 L485 815 L488.4 816.9 L490.6 803.75 L493.75 796.9 L499.4 824.4 L507.5 770 L510.6 761.25 L516.25 786.25 L520.6 782.5 L524.7 764.4 L530 777.5 L534.4 774.4 L535.9 763.1 L538.75 774.4 L541.9 765 L544 709.6 L547 698.1 L550.2 702.3 L552.3 685.6 L555.4 698.1 L560.6 664.8 L566.9 657.5 L569.6 685 L573.1 667.9 L578.3 658.5 L582.5 655.4 L584.6 649.2 L586 622 L589.2 626.25 L594.6 614.8 L599.2 617.5 L602.9 628.75 L605.8 619 L608.5 623.75 L613.75 610.6 L616.9 620 L620 613.75 L623.1 590.8 L625.8 583.5 L628.3 612.7 L630.4 573.75 L634.6 580.4 L637.7 573.1 L641.9 540.8 L646 548.1 L648.1 565.8 L650.8 561.7 L653.3 552.3 L656.5 569 L659.2 575.2 L664.8 562.7 L670 572 L673.1 575.2 L675.8 582.5 L678.1 568.75 L683.3 555.2 L687.5 559 L693.75 556.9 L695.4 537.5 L697.5 489.6 L701 481.25 L703.75 498.3 L706.25 482.3 L709.4 477.5 L714.6 489.2 L717.7 484 L720.8 493.75 L723.3 496.9 L726.7 505.8 L729.6 505.8 L730.8 493.75 L734.4 481.7 L737.5 481.7 L742.7 489.2 L749 493.75 L754.2 501.7 L757.3 500.6 L760 486.5 L763.5 503.1 L766.7 509.4 L770.4 510.4 L774 515.6 L776.7 502.1 L779.2 504.2 L782.3 494.8 L787.5 488.5 L790.2 496.5 L793.75 488.5 L795.4 430.2 L797.3 429.2 L798.5 439.6 L799.6 439.6 L801 390.6 L804.2 392.7 L807.7 397.9 L810.4 408.3 L813.1 412.5 L814.6 467.7 L818.3 467.7 L820.8 451 L822.9 463.5 L825 461.5 L828.1 463.5 L832.3 475 L835 457.3 L838.5 465.6 L841.7 468.75 L843.75 483.3 L849 475 L854.2 449 L856.25 453.1 L859.4 429.2 L863.5 427.1 L868.3 445.8 L871.9 445.8 L874.6 432.9 L877.1 452.1 L879.2 435.4 L882.1 432.7 L886.25 431.7 L889.4 423.3 L891.5 412.9 L894 394.6 L897.1 412.5 L901.9 380.6 L905 385.4 L907.7 359.8 L911.25 380.6 L914.4 390 L919.2 395.8 L922.3 408.3 L924.8 400 L927.5 406.25 L930 421.25 L934.6 420.2 L935.8 412.9 L939.4 417.1 L941.5 433.75 L945 442.1 L949.8 427.5 L955 415 L958.5 396.7 L961.25 427.5 L963.3 467.1 L966.5 504.6 L969.6 510.8 L971.7 529.6 L974.8 540.4 L979 512.9 L982.1 500.4 L986.7 499.4 L989.4 523.3 L992.5 501.5 L997.7 498.3 L1000.4 522.3 L1002.9 503.5 L1005.6 523.3 L1008.1 507.7 L1011.7 515.6 L1013.3 486.9 L1016.5 483.3 L1019.2 467.5 L1023.3 470.2 L1025.8 478.5 L1028.3 479.2 L1030.4 487.9 L1033.75 494.6 L1036.7 460.8 L1039.4 429.2 L1042.1 449.4 L1045.2 451.5 L1047.7 470.8 L1050.8 456.7 L1054 458.3 L1056.7 455 L1061.25 476.5 L1062.9 483.3 L1064.4 514 L1068.5 496.25 L1071.7 495.2 L1074.8 501.5 L1077.9 503.5 L1081.7 526.5 L1086.25 494.2 L1089.2 482.5 L1092.9 444.6 L1095 482.5 L1097.5 523.1 L1100.6 529.4 L1103.75 575.2 L1106.5 535.6 L1109.6 547.1 L1113.1 533.5 L1116.25 524.2 L1120 510.6 L1122.9 511.7 L1126.25 508.5 L1129.2 511.7 L1131.25 532.5 L1134.6 534.2 L1139.6 515.8 L1142.9 524.2 L1145.4 538.3 L1148.5 512.7 L1151.25 524.2 L1154.8 516.9 L1159 514.2 L1163.1 511.7 L1165.2 549.2 L1167.3 603.3 L1170.4 634.6 L1175.6 665.8 L1178.2 690 L1179.9 734.2 L1181.3 766.7 L1184.4 781.1 L1187.4 783.8 L1189.8 815.4 L1193.4 829.9 L1196.1 876.8 L1198.5 806.4 L1201.2 838.9 L1203.9 815.4 L1206.9 831.7 L1210.2 849.7 L1212.7 905.7 L1215.1 871.4 L1219.6 858.8 L1222.3 844.3 L1226.8 835.3 L1230.8 841.6 L1234.9 855.2 L1239.5 850.6 L1243.4 851.5 L1245.8 871.4 L1249 910.2 L1251.2 889.5 L1254.8 882.2 L1257.5 893.1 L1260.2 931 L1263.8 920.2 L1267.4 914.7 L1271 867.8 L1274.7 859.7 L1277.4 861.5 L1282.4 875.9 L1285.5 858.8 L1287.8 864.2 L1290.9 857.9 L1293.6 860.6 L1296.7 877.9 L1300 830 L1304.6 777.9 L1307.7 787.3 L1310.8 784.2 L1316 747.7 L1319.2 748.75 L1322.3 736.25 L1325 746.25 L1327.1 740.4 L1330 720 L1332.7 731 L1335.4 750.8 L1341 758.75 L1345.2 733.1 L1347.9 733.1 L1353.5 744.6 L1358.3 774.8 L1361.25 767.5 L1363.5 733.1 L1367.1 779.6 L1371.25 760.2 L1374.4 743.5 L1378.5 738.3 L1380.6 714.4 L1385.8 718.5 L1390 727.5 L1395.2 745.6 L1399.4 786.25 L1403.5 797.7 L1410.8 852.9 L1414.6 862.3 L1417.1 858.1 L1422.3 899.8 L1425.4 874.8 L1428.5 893.5 L1433.3 877.9 L1436.5 821.25 L1439 839.4 L1441.7 825.4 L1445.2 822.3 L1448.3 830 L1451.5 815.4 L1456.25 808.75 L1459.8 815.4 L1464 825.8 L1467.5 822.7 L1470.2 850.8 L1474.4 837.3 L1479.6 834.2 L1484.2 817.5 L1491 846.7 L1495 856 L1499.2 875.8 L1503.3 893.5 L1507.1 896.25 L1511.7 871.7 L1516.9 882.1 L1522.1 897.7 L1525.8 897.1 L1528.3 907.5 L1531.5 876.9 L1534.6 868.5 L1538.75 879 L1540.8 888.3 L1544 889.4 L1545.6 863.3 L1548.1 902.9 L1552.3 892.5 L1556.5 870.6 L1559.6 872.7 L1562.7 868.5 L1566.6 900 L1568.9 911.7 L1569.5 946.9 L1570.4 972.7 L1573.6 950.4 L1574.8 969.1 L1578.9 970.3 L1580.6 976.2 L1585.3 999.6 L1587.9 978.5 L1590.2 1001.4 L1595.9 968 L1599.4 965 L1604.6 952.7 L1608.75 965.6 L1611.1 982 L1612.9 1039.5 L1614.8 1080 L1617.9 1105 L1621 1116.5 L1624.2 1108.1 L1626.25 1075.8 L1629.4 1088.3 L1632.5 1068.5 L1635 1093.5 L1637.7 1036.25 L1640.8 1051.25 L1645 1044.6 L1648.75 1047.1 L1651.7 1030 L1655 1017.5 L1659.6 1047.7 L1662.7 1034.2 L1665.8 1022.7 L1668.5 1042.5 L1671.7 1024.8 L1673.75 1046.7 L1678.3 1033.1 L1682.5 1039.4 L1688.75 1030.4 L1693.5 1020.6 L1698.1 1029 L1702.3 1027 L1707.3 1040.4 L1710.4 1033.1 L1713.5 1033.1 L1716.7 1024.8 L1719.8 1026.9 L1722.5 1021.7 L1727.1 1022.1 L1730.2 1032 L1733.3 1030 L1735 1027.7 L1738.5 1018.4 L1743.2 1031.25 L1747.9 1036.5 L1752.6 1047.7 L1755.2 1013.3 L1757.9 997.3 L1761.5 1001.9 L1763.7 1008.4 L1769 979.7 L1774.8 971.5 L1777.1 959.2 L1780.7 943.4 L1783 959.2 L1788.3 966.2 L1791.8 950.4 L1794.8 969.6 L1798.3 990.2 L1801.2 982 L1804.7 917.6 L1806.5 911.7 L1809.4 896.7 L1810.4 884.2 L1814.2 876.25 L1818.75 883.1 L1822.9 889.4 L1825.6 896.7 L1828.1 888.3 L1830.2 892.5 L1833.3 882.1 L1836.5 879.6 L1839.6 882.5 L1842.3 896.7 L1844.4 913.3 L1847.5 890.4 L1850.4 890.4 L1853.1 885.2 L1855.8 904 L1858.75 895.6 L1862.1 902.9 L1864.6 906 L1867.7 927.9 L1872.1 952.7 L1874.5 999.6 L1878.6 1010.7 L1883.8 990.8 L1886.8 1004.9 L1890.3 1002.5 L1892.7 976.9 L1897.3 969.1 L1900.2 965.6 L1900.8 979.7 L1903.1 846.7 L1906.5 801.9 L1908.1 811.25 L1910.2 832.1 L1912.3 849.8 L1915.4 852.9 L1918.5 859.2 L1920 892.5 L1923.3 892.5 L1924.8 930 L1926 950 L1929 980 L1931.9 993.75 L1934.2 980.9 L1937.7 985.5 L1941.3 985.5 L1943 971.5 L1948.3 993.75 L1951.8 983.2 L1954.7 986.7 L1961.8 1009 L1964.7 1005.5 L1967.6 965.6 L1970.6 963.3 L1974.1 976.2 L1978.8 1002.5 L1981.7 994.9 L1988.1 1005.5 L1991.1 1023 L1992.8 1023.6 L1997.7 1007 L2002.8 986.7 L2006.9 979.7 L2011.6 965.6 L2015.1 913.5 L2018.6 949.2 L2021 940.4 L2026.8 944.5 L2029 948.75 L2032.4 953.3 L2035.2 941.5 L2038.3 936.25 L2042.5 915.4 L2046.25 879 L2048.75 900.8 L2051.9 915.4 L2055 939.4 L2058.75 938.3 L2061.25 923.75 L2064.4 915.4 L2066.5 904 L2070.6 901.9 L2074.2 906.7 L2076.9 880 L2080 876.9 L2082.5 870.6 L2085.2 885.2 L2088.3 884.2 L2091.5 875.8 L2094.6 882.1 L2096.7 885.2 L2099.8 876.25 L2103.5 890.7 L2104.7 915.5 L2107.6 921.4 L2110.6 914.3 L2113.7 915.5 L2116.5 900.2 L2119.4 901.3 L2124.3 884.8 L2129.5 887.2 L2133.5 896.6 L2135.9 884.8 L2141.3 886 L2144.9 878.9 L2180.3 875.4 L2183.1 863.5 L2200.4 863.5 L2203.9 867.1 L2208.6 880.1 L2214.5 868.3 L2218 865.9 L2222.3 861.2 L2225.1 836.4 L2228.7 835.2 L2231 808.1 L2233.4 797.4 L2237 793.4 L2239.3 798.6 L2241.7 793.9 L2248.3 802.9 L2251.1 797.4 L2253.5 797.4 L2255.8 806.2 L2260.1 801.5 L2261.7 759.7 L2264.6 763.7 L2267.6 756.1 L2270 737.2 L2273.5 751.4 L2276.6 747.9 L2281.3 727.8 L2284.2 710.1" fill="none" stroke="#555555" stroke-width="4" stroke-linejoin="round" stroke-linecap="round"/>
<line x1="269.5" y1="292" x2="269.5" y2="1171" stroke="#a9aeb3" stroke-width="1.5"/>
<line x1="2291.5" y1="292" x2="2291.5" y2="1171" stroke="#ff8a8a" stroke-width="1.5"/>
<text x="63.25" y="1375.8" font-size="33" fill="#7e8083" textLength="574.8" lengthAdjust="spacingAndGlyphs">© 2025 Glassnode. All Rights Reserved.</text>
<text transform="scale(1.08 1)" x="2017.17 2055.03 2067.71 2103.64 2133.73 2161.55 2196.74 2234.86 2272.31" y="1385.6" font-size="67.5" fill="#1e1e1e" stroke="#1e1e1e" stroke-width="1.3" stroke-linejoin="round">glassnode</text>
</svg></body></html>
